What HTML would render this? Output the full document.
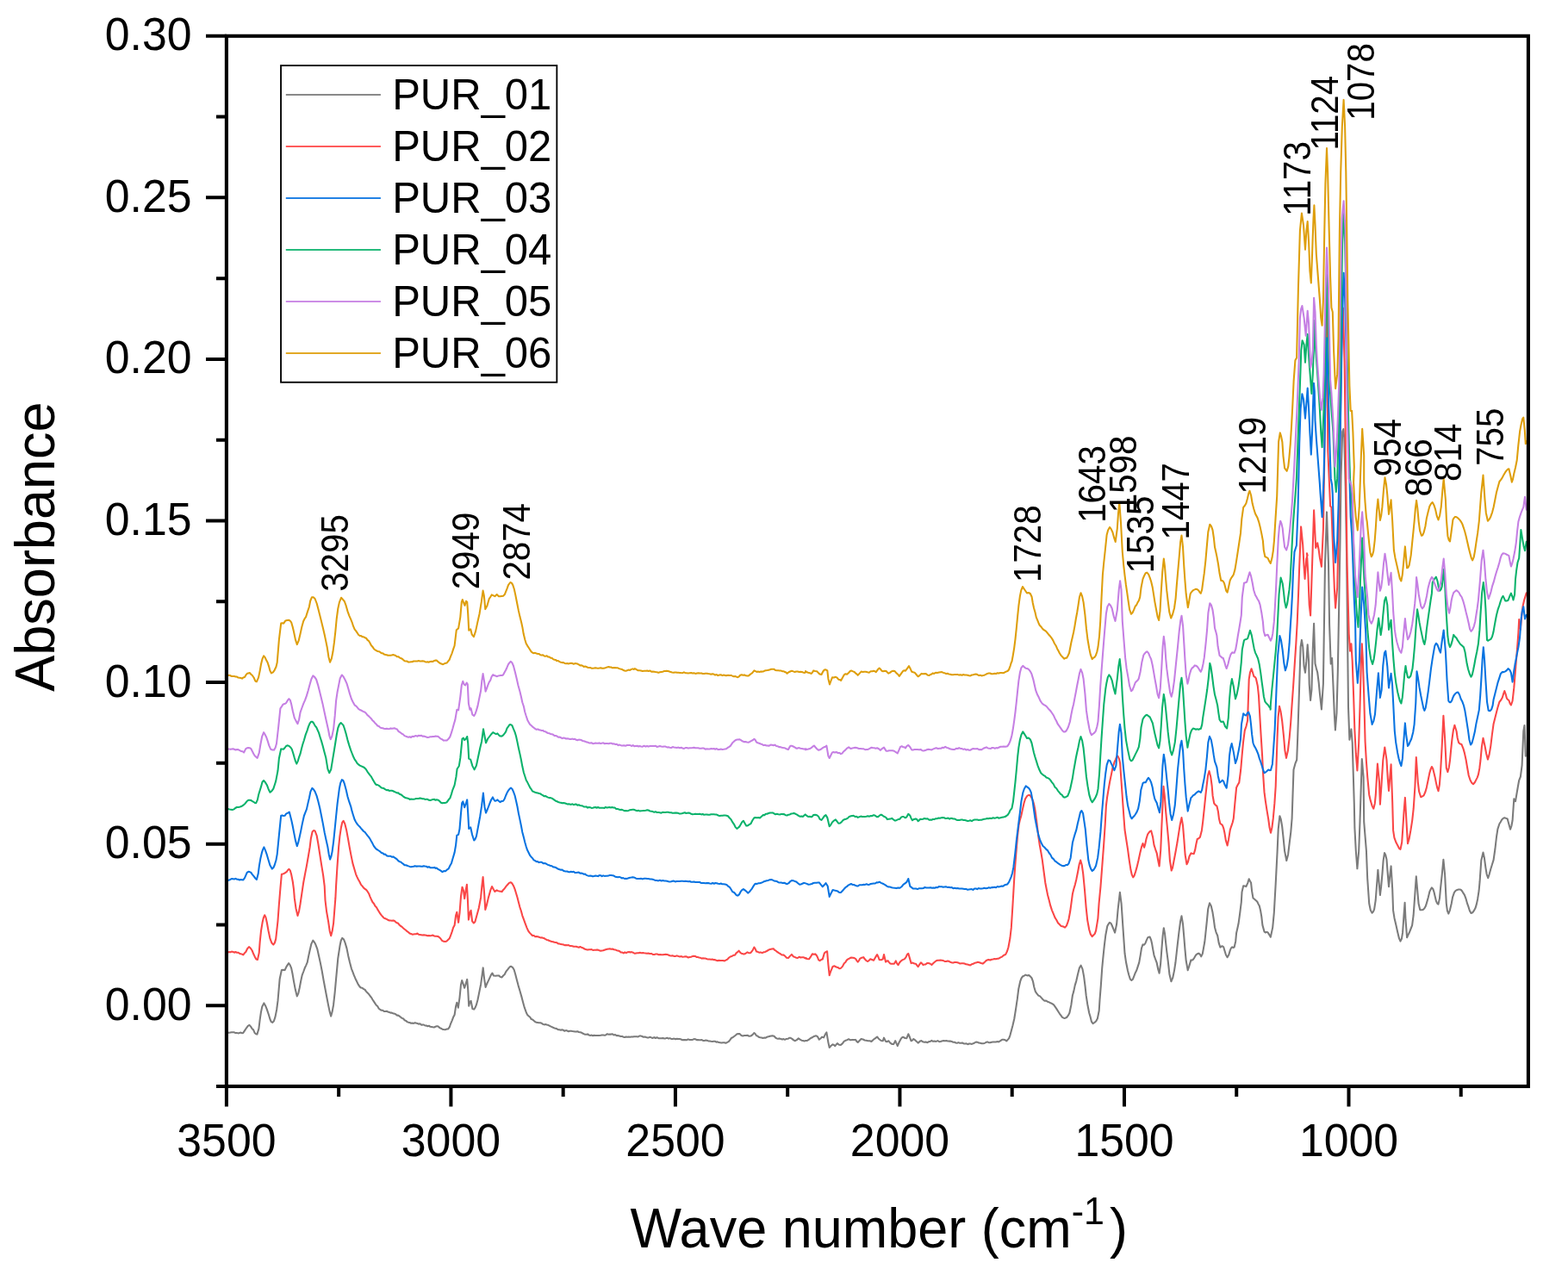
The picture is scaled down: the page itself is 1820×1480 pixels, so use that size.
<!DOCTYPE html><html><head><meta charset="utf-8"><style>html,body{margin:0;padding:0;background:#fff}svg{display:block}text{font-family:"Liberation Sans", sans-serif;fill:#000}</style></head><body>
<svg width="1820" height="1480" viewBox="0 0 1820 1480">
<rect width="1820" height="1480" fill="#fff"/>
<g fill="none" stroke-width="2.05" stroke-linejoin="round" stroke-linecap="round">
<path d="M263.0,1199.1L264.5,1198.6L265.9,1198.7L267.4,1198.5L268.9,1198.3L270.4,1198.2L271.9,1198.3L273.4,1199.1L274.9,1198.9L276.4,1199.4L278.0,1199.0L279.5,1198.6L281.0,1199.2L282.3,1198.9L284.3,1195.9L286.0,1193.3L287.8,1190.9L289.5,1189.9L291.1,1191.6L292.7,1194.2L294.1,1195.4L295.6,1198.9L297.1,1200.2L298.4,1200.6L300.4,1194.1L301.7,1183.3L302.9,1175.1L304.3,1168.5L306.4,1164.4L308.1,1167.4L309.8,1171.6L311.7,1177.3L313.5,1183.2L314.9,1186.2L316.2,1186.9L317.9,1185.3L319.5,1180.4L321.2,1171.7L322.5,1161.7L324.7,1136.2L326.9,1126.0L328.8,1125.8L330.6,1126.1L332.9,1121.3L335.1,1118.1L336.6,1120.1L338.1,1123.6L339.6,1130.8L341.0,1139.1L342.9,1149.1L344.8,1156.4L346.3,1153.1L347.7,1146.7L349.2,1138.8L350.7,1131.9L352.2,1128.0L353.7,1123.8L355.2,1120.6L356.7,1117.2L358.1,1110.1L359.6,1103.3L361.4,1095.6L363.3,1091.6L364.8,1093.6L366.3,1096.3L368.3,1101.6L370.0,1109.3L371.9,1117.9L373.7,1127.0L375.6,1137.9L377.5,1148.0L379.3,1157.5L381.2,1167.4L382.7,1174.4L384.2,1179.6L385.7,1174.1L387.1,1166.2L388.7,1151.6L390.1,1136.1L392.3,1112.3L394.6,1097.3L395.8,1091.8L397.2,1088.9L398.9,1090.2L400.5,1094.1L402.5,1100.9L404.2,1109.4L406.0,1117.1L407.9,1124.3L409.3,1127.9L410.8,1131.9L412.4,1135.7L414.0,1139.0L415.7,1142.6L417.6,1145.4L419.0,1146.6L420.5,1146.8L422.1,1148.1L423.5,1148.7L425.0,1150.9L426.6,1152.5L428.0,1153.9L429.5,1156.0L431.0,1157.8L432.4,1160.2L434.0,1162.6L435.3,1164.6L436.7,1166.8L438.2,1168.1L439.7,1170.7L441.4,1172.0L442.8,1172.8L444.2,1172.7L445.8,1174.0L447.3,1174.1L448.8,1173.8L450.3,1174.5L451.8,1175.0L453.3,1175.6L454.8,1175.6L456.3,1176.4L457.7,1176.6L459.2,1177.2L460.7,1178.6L462.2,1178.6L463.7,1179.6L465.2,1180.8L466.7,1181.9L468.2,1182.5L469.7,1184.3L471.1,1184.9L472.6,1186.1L474.1,1186.7L475.6,1187.0L477.1,1187.8L478.5,1187.6L480.0,1187.9L481.5,1187.2L483.0,1187.6L484.4,1187.9L485.8,1188.7L487.4,1188.3L488.9,1189.6L490.4,1189.6L491.9,1189.5L493.4,1190.5L494.9,1190.5L496.4,1191.2L497.9,1190.7L499.4,1191.8L500.9,1191.9L502.4,1192.3L503.8,1192.5L505.4,1191.8L506.9,1191.3L508.3,1191.3L510.5,1193.1L511.8,1193.7L513.4,1194.7L515.0,1195.1L516.7,1195.2L518.6,1194.6L520.2,1194.4L521.8,1192.2L523.1,1188.3L524.7,1184.6L526.1,1180.8L527.6,1178.0L529.1,1168.1L530.3,1163.7L531.8,1169.8L533.5,1158.1L535.0,1143.0L536.2,1138.1L537.7,1142.4L539.2,1146.8L540.7,1141.8L542.2,1136.9L543.2,1148.6L544.2,1167.8L545.4,1163.1L546.6,1161.8L548.4,1171.0L550.2,1171.6L551.6,1169.6L552.9,1166.4L554.5,1160.5L555.8,1154.1L558.1,1142.7L559.6,1131.9L560.7,1123.4L562.1,1136.2L563.6,1145.9L565.5,1141.2L566.9,1138.4L568.5,1134.8L570.0,1131.6L571.4,1129.5L572.9,1132.5L575.2,1132.8L577.0,1132.6L578.9,1132.4L580.8,1134.0L582.6,1134.4L584.1,1132.5L585.6,1131.2L587.4,1127.7L589.3,1125.4L590.6,1123.6L592.0,1122.1L593.3,1121.7L595.1,1123.1L596.7,1125.8L598.3,1131.3L599.7,1136.8L601.5,1143.6L603.4,1150.0L605.3,1156.6L607.1,1163.4L608.8,1169.7L610.8,1175.2L612.2,1178.1L613.7,1179.4L615.3,1180.8L616.7,1183.1L618.1,1183.4L619.6,1184.8L621.2,1186.1L622.6,1186.8L624.1,1187.0L625.6,1187.2L627.2,1187.2L628.7,1187.7L630.2,1188.9L631.7,1189.4L633.1,1189.1L634.6,1189.5L636.1,1189.8L637.6,1190.6L639.1,1191.4L640.6,1192.1L642.1,1192.8L643.5,1193.4L645.0,1193.7L646.4,1194.3L647.9,1195.2L649.4,1195.3L651.0,1195.8L652.4,1195.3L653.8,1195.7L655.3,1196.8L656.9,1196.1L658.4,1196.5L659.9,1197.3L661.4,1196.7L662.9,1196.8L664.4,1197.1L665.9,1197.2L667.4,1197.4L668.9,1197.6L670.3,1197.2L671.8,1198.0L673.3,1198.2L674.8,1198.6L676.3,1199.5L677.7,1200.2L679.2,1200.7L680.7,1200.8L682.1,1200.4L683.6,1201.6L685.2,1201.9L686.6,1201.6L688.1,1202.3L689.6,1201.7L691.1,1201.9L692.6,1202.0L694.1,1202.1L695.6,1201.9L697.2,1201.8L698.8,1201.5L700.3,1201.6L701.8,1201.8L703.0,1201.5L704.8,1200.2L706.6,1200.7L707.8,1200.6L709.3,1200.6L710.9,1200.3L712.5,1201.5L714.1,1201.1L715.7,1202.1L717.1,1202.1L718.9,1202.6L720.5,1203.1L722.0,1202.9L723.7,1203.7L725.2,1204.0L726.7,1203.5L728.2,1203.8L729.8,1203.6L731.4,1203.7L733.0,1203.4L734.5,1203.6L736.0,1203.2L737.6,1203.2L739.1,1203.3L740.7,1203.5L742.1,1202.5L743.5,1202.4L745.3,1203.0L746.8,1203.7L748.4,1203.6L750.1,1204.1L751.5,1204.4L753.0,1204.4L754.5,1203.8L756.1,1204.4L757.7,1204.9L759.3,1204.1L760.9,1205.0L762.6,1204.2L764.3,1205.2L766.1,1205.3L767.8,1205.2L769.5,1205.0L771.1,1205.4L772.5,1205.4L774.3,1204.7L776.0,1205.6L777.5,1205.1L779.1,1205.9L780.8,1206.0L782.4,1205.6L784.1,1206.2L785.7,1205.7L787.3,1206.0L788.9,1205.9L790.5,1206.5L792.3,1207.3L793.8,1207.1L795.3,1207.1L797.0,1207.2L798.7,1206.4L800.5,1207.0L802.2,1206.9L803.9,1206.9L805.5,1206.1L807.1,1206.2L808.6,1207.1L810.1,1207.1L811.6,1207.3L813.1,1207.3L814.6,1207.0L816.0,1207.9L817.6,1207.9L819.1,1207.6L820.7,1207.8L822.2,1208.4L823.7,1208.5L825.3,1208.8L826.8,1208.9L828.3,1208.8L829.8,1208.7L831.4,1209.7L832.9,1209.3L834.4,1210.1L835.8,1210.2L837.5,1210.4L839.2,1210.2L840.8,1210.2L842.3,1210.7L843.7,1210.2L845.6,1209.2L847.2,1207.4L849.0,1204.8L850.5,1204.3L852.1,1203.0L853.8,1201.7L855.4,1200.2L856.9,1200.1L858.7,1200.1L860.5,1202.0L862.2,1202.4L864.0,1202.0L865.8,1202.0L867.5,1201.8L869.5,1202.7L871.4,1202.6L873.5,1201.1L875.4,1199.0L876.6,1200.0L878.0,1202.2L879.2,1202.4L880.6,1203.8L882.3,1204.3L883.9,1204.4L885.6,1204.9L887.3,1204.6L888.8,1204.7L890.5,1203.6L892.1,1203.3L893.7,1202.7L895.2,1202.4L896.5,1202.3L898.5,1202.8L900.4,1204.8L901.7,1205.4L903.1,1205.8L904.7,1205.4L906.4,1206.1L908.0,1206.6L909.6,1206.1L911.0,1206.8L912.8,1205.9L914.5,1205.8L916.1,1204.8L917.6,1204.8L919.4,1205.9L921.2,1207.4L922.9,1208.2L924.8,1207.1L926.8,1205.4L928.6,1206.7L930.4,1207.7L932.1,1208.0L933.6,1208.4L935.0,1208.1L937.0,1207.9L939.0,1206.6L941.0,1205.0L942.9,1204.3L944.2,1203.2L945.5,1202.8L947.3,1202.3L948.8,1203.1L950.8,1206.7L952.4,1205.5L954.1,1203.6L956.1,1204.4L957.9,1200.6L959.4,1198.4L961.4,1210.1L962.7,1216.0L964.5,1214.0L966.6,1212.3L968.0,1213.0L969.3,1214.2L970.6,1212.5L971.9,1211.1L973.9,1212.8L975.9,1212.9L977.8,1211.4L979.8,1208.7L981.5,1207.8L983.3,1207.1L985.1,1206.2L987.1,1207.3L989.1,1206.9L991.1,1207.1L993.0,1206.9L994.4,1208.9L995.7,1210.0L997.6,1208.0L999.6,1205.9L1001.6,1206.4L1003.6,1207.5L1005.5,1207.8L1007.5,1208.2L1009.6,1208.2L1011.5,1209.0L1012.8,1207.7L1014.1,1206.5L1016.1,1205.1L1018.1,1203.5L1019.4,1205.1L1020.7,1206.5L1022.8,1208.0L1024.7,1208.3L1026.0,1204.6L1028.0,1208.8L1029.5,1209.3L1031.3,1208.2L1033.3,1210.6L1035.2,1211.9L1037.2,1212.1L1039.2,1208.1L1040.4,1210.9L1041.8,1214.1L1043.7,1209.7L1045.8,1205.7L1047.0,1204.3L1048.4,1203.8L1050.5,1205.0L1052.4,1205.2L1054.3,1200.3L1055.9,1203.8L1057.6,1208.3L1058.9,1207.6L1060.3,1206.0L1062.0,1207.2L1063.9,1208.9L1065.6,1210.6L1066.8,1209.6L1068.2,1208.4L1069.5,1208.1L1071.2,1209.3L1072.9,1209.7L1074.6,1209.4L1076.1,1210.2L1078.0,1209.3L1080.1,1208.7L1081.4,1207.9L1082.9,1208.8L1084.7,1208.5L1086.5,1208.9L1088.4,1208.1L1090.2,1209.2L1091.8,1209.0L1093.2,1208.4L1095.2,1208.0L1096.8,1208.2L1098.5,1208.1L1100.0,1208.4L1101.5,1208.6L1103.1,1208.6L1104.7,1208.9L1106.4,1209.8L1107.9,1209.7L1109.3,1210.5L1110.9,1210.7L1112.4,1210.1L1114.0,1210.7L1115.5,1210.8L1117.0,1210.5L1118.6,1211.4L1120.2,1211.4L1121.7,1211.3L1123.3,1212.2L1124.8,1211.5L1126.2,1211.6L1128.0,1211.9L1129.6,1211.3L1131.2,1210.5L1132.8,1209.5L1134.5,1209.7L1136.1,1210.6L1137.8,1210.8L1139.4,1211.3L1141.1,1211.2L1142.7,1211.0L1144.3,1210.0L1146.0,1209.4L1147.6,1210.2L1149.3,1210.3L1150.9,1209.8L1152.6,1209.5L1154.3,1209.4L1156.0,1209.4L1157.7,1209.1L1159.2,1209.4L1161.2,1208.2L1163.1,1206.8L1164.9,1206.8L1166.8,1207.3L1168.4,1208.4L1169.9,1206.6L1171.1,1205.4L1172.5,1201.6L1173.7,1197.0L1175.5,1190.3L1177.3,1182.5L1179.1,1171.1L1180.8,1159.7L1182.3,1147.7L1184.3,1138.8L1185.6,1135.3L1187.0,1133.5L1188.7,1132.6L1190.4,1131.6L1192.3,1132.4L1194.0,1131.9L1195.9,1133.4L1197.5,1135.2L1199.1,1139.7L1200.3,1145.8L1201.9,1151.1L1203.5,1153.3L1205.3,1155.6L1207.1,1156.4L1208.9,1158.4L1210.6,1160.3L1212.4,1161.8L1214.1,1161.6L1215.9,1162.7L1217.7,1163.4L1219.5,1164.3L1221.3,1165.1L1223.1,1166.4L1224.7,1168.6L1226.6,1171.4L1228.2,1174.0L1230.0,1176.8L1231.4,1178.6L1233.0,1180.9L1234.6,1181.7L1236.1,1181.9L1238.1,1181.0L1239.9,1178.7L1241.4,1175.7L1243.4,1166.2L1244.9,1155.5L1246.3,1150.6L1247.7,1143.9L1249.3,1138.6L1251.0,1131.1L1252.9,1123.6L1254.6,1120.7L1256.5,1124.9L1258.1,1133.4L1259.5,1144.3L1260.7,1155.7L1262.3,1166.0L1264.2,1175.8L1265.5,1180.1L1266.9,1185.8L1268.6,1188.1L1270.4,1187.0L1272.3,1185.2L1273.9,1182.3L1275.7,1173.2L1276.5,1160.7L1277.9,1143.1L1279.2,1124.0L1280.4,1111.3L1281.8,1097.8L1283.3,1085.5L1285.3,1075.0L1286.5,1072.8L1287.9,1070.8L1289.3,1071.6L1290.6,1074.0L1292.5,1078.7L1294.1,1082.6L1296.1,1072.8L1297.6,1055.9L1299.9,1035.8L1301.6,1048.8L1303.7,1080.4L1305.5,1106.5L1307.0,1116.8L1309.0,1126.7L1310.3,1131.8L1311.8,1136.5L1313.4,1138.0L1314.8,1136.8L1316.3,1133.1L1317.8,1129.2L1319.3,1126.3L1320.8,1121.6L1322.2,1117.4L1323.7,1108.9L1325.0,1100.7L1326.5,1096.4L1328.1,1096.7L1329.4,1095.0L1330.7,1091.6L1332.2,1088.4L1333.4,1087.7L1334.6,1087.5L1336.0,1090.8L1337.0,1094.9L1338.2,1101.9L1339.5,1108.8L1341.0,1113.2L1342.7,1117.7L1344.3,1125.5L1345.6,1129.7L1347.1,1118.8L1348.4,1101.4L1349.6,1086.3L1350.8,1077.2L1352.0,1083.5L1353.2,1094.9L1354.4,1105.4L1355.7,1115.4L1357.4,1130.7L1359.4,1139.3L1361.2,1135.2L1363.0,1126.6L1364.4,1117.5L1365.7,1106.0L1367.0,1094.3L1368.5,1081.7L1370.1,1069.5L1371.5,1063.3L1373.0,1072.5L1374.3,1087.7L1375.5,1102.3L1376.7,1115.3L1378.7,1126.2L1380.3,1121.4L1382.4,1114.4L1383.6,1114.6L1384.8,1113.8L1386.4,1111.6L1388.1,1108.6L1389.7,1107.3L1391.3,1106.6L1392.9,1107.9L1394.2,1110.4L1395.8,1107.1L1397.0,1100.5L1398.3,1093.3L1399.4,1083.0L1400.8,1069.7L1402.2,1055.2L1404.0,1048.3L1405.8,1051.8L1407.5,1059.1L1408.8,1067.4L1410.0,1076.4L1411.5,1082.1L1413.2,1086.0L1414.7,1094.6L1416.4,1099.6L1417.7,1098.6L1418.9,1098.3L1420.2,1099.3L1421.3,1103.0L1422.9,1108.3L1424.6,1111.3L1426.2,1108.6L1427.8,1103.1L1428.9,1100.6L1430.2,1099.3L1431.5,1100.0L1432.7,1099.3L1434.2,1092.7L1435.1,1082.9L1436.3,1077.8L1437.5,1072.3L1439.2,1060.1L1440.8,1047.1L1441.5,1035.6L1443.2,1028.2L1444.8,1028.6L1446.4,1029.1L1448.2,1025.1L1449.7,1020.3L1450.9,1022.6L1452.1,1024.8L1453.1,1034.3L1454.5,1042.5L1456.1,1043.8L1457.8,1045.3L1459.2,1046.5L1460.6,1049.4L1461.8,1051.5L1463.2,1057.6L1464.3,1064.2L1465.4,1073.9L1467.5,1081.4L1468.8,1082.5L1470.2,1081.8L1471.6,1082.4L1473.3,1085.1L1474.8,1087.7L1477.2,1076.6L1478.8,1059.6L1480.7,1025.8L1482.6,988.4L1483.7,962.7L1485.4,947.2L1486.8,951.2L1488.2,959.3L1489.7,973.7L1491.1,987.9L1493.3,999.0L1495.1,991.9L1496.7,978.6L1498.3,965.8L1499.6,950.0L1501.5,893.6L1503.4,886.4L1505.2,882.0L1506.2,856.0L1508.1,798.5L1509.6,751.0L1510.9,742.9L1512.3,751.2L1513.6,773.6L1515.0,780.8L1516.4,767.4L1517.7,748.3L1519.1,767.3L1519.7,794.1L1521.1,813.0L1522.4,801.0L1523.8,753.1L1525.1,723.8L1526.5,770.3L1527.8,775.6L1529.2,780.5L1530.7,792.4L1531.9,804.9L1533.9,823.4L1535.9,793.6L1538.0,654.9L1540.0,594.4L1542.0,655.1L1543.1,725.5L1544.7,770.6L1546.1,764.1L1547.4,794.3L1548.8,828.2L1549.9,847.5L1551.5,827.5L1552.8,780.0L1554.1,708.1L1555.5,627.5L1556.5,553.0L1558.2,501.1L1559.3,498.0L1560.3,508.7L1561.7,564.7L1563.0,641.1L1565.0,820.8L1566.4,858.7L1568.4,846.4L1569.7,862.1L1571.8,933.0L1572.4,961.0L1573.8,987.4L1575.4,1008.3L1577.2,988.0L1578.5,953.5L1580.8,881.0L1582.6,902.3L1583.2,953.8L1584.5,970.1L1585.9,987.3L1587.2,1019.8L1589.2,1048.8L1590.8,1056.6L1592.6,1059.7L1593.9,1058.4L1595.1,1055.7L1596.7,1045.0L1597.7,1032.0L1599.4,1009.7L1600.6,1024.3L1601.9,1039.0L1603.1,1029.4L1604.4,1015.1L1605.6,999.1L1607.0,990.1L1608.2,992.2L1609.5,997.8L1610.9,1016.2L1612.0,1029.2L1613.3,1016.4L1614.6,1005.4L1616.2,1031.9L1617.1,1056.9L1618.5,1065.7L1620.5,1074.3L1622.1,1081.5L1623.9,1089.0L1625.5,1092.6L1626.9,1089.8L1628.1,1082.4L1629.5,1062.2L1630.6,1047.8L1631.5,1067.7L1633.1,1088.2L1634.3,1085.6L1635.7,1082.8L1637.4,1078.5L1639.1,1074.2L1640.6,1062.7L1641.6,1048.9L1643.8,1017.3L1645.8,1040.3L1646.6,1049.1L1648.3,1056.2L1650.0,1056.2L1651.7,1056.0L1653.3,1054.6L1654.7,1052.1L1655.9,1048.4L1657.7,1042.0L1659.3,1035.2L1660.6,1032.3L1661.9,1030.4L1663.2,1031.7L1664.4,1035.1L1665.6,1040.3L1666.9,1045.8L1668.2,1048.6L1669.5,1049.6L1671.0,1042.6L1672.0,1031.7L1673.7,1015.6L1675.4,997.8L1677.1,1015.0L1678.8,1048.8L1679.9,1057.2L1681.3,1060.6L1682.9,1056.6L1684.7,1049.0L1686.1,1041.3L1688.0,1035.8L1689.6,1033.8L1691.4,1032.9L1692.8,1032.6L1694.3,1032.5L1695.6,1032.7L1697.2,1034.5L1698.6,1036.9L1699.9,1038.8L1701.6,1043.4L1703.2,1049.2L1704.5,1052.7L1705.9,1057.2L1707.5,1060.0L1709.2,1059.3L1710.8,1057.2L1712.5,1054.1L1713.9,1049.4L1715.1,1043.7L1716.6,1034.0L1717.6,1023.2L1719.3,998.7L1721.5,989.5L1722.9,995.8L1724.4,1007.1L1725.7,1015.0L1727.2,1019.2L1728.7,1014.7L1730.3,1008.7L1732.0,1003.2L1733.6,998.1L1735.4,985.5L1737.0,971.5L1738.4,962.4L1740.4,956.2L1741.7,954.2L1743.2,951.5L1744.8,949.9L1746.3,949.3L1748.1,949.9L1749.7,950.5L1751.6,957.4L1753.1,962.6L1754.4,958.7L1755.6,952.3L1757.3,927.2L1759.0,930.2L1760.7,920.0L1761.9,913.0L1763.2,905.8L1764.9,901.5L1766.6,888.3L1768.3,848.8L1769.5,842.0L1770.8,877.6" stroke="#7b7b7b"/>
<path d="M263.0,1105.5L264.5,1105.4L266.0,1105.1L267.5,1105.2L268.9,1104.6L270.5,1104.9L271.9,1105.7L273.4,1105.0L274.9,1105.7L276.4,1105.7L277.9,1106.7L279.4,1107.3L280.9,1107.6L282.3,1108.4L283.9,1106.3L285.3,1105.0L287.1,1101.2L289.0,1099.1L290.9,1100.8L292.7,1103.5L294.2,1107.3L295.7,1110.4L297.4,1113.5L299.0,1113.9L300.7,1106.1L301.7,1093.2L303.0,1080.7L304.6,1070.8L305.8,1065.5L307.2,1062.2L308.5,1064.9L309.8,1070.7L311.5,1080.3L313.5,1089.7L315.4,1094.5L317.3,1096.6L318.9,1094.4L320.2,1089.9L322.5,1068.8L323.9,1049.5L325.4,1031.5L326.9,1014.7L328.3,1014.5L329.9,1013.9L331.4,1012.8L332.9,1011.8L334.3,1009.7L335.5,1008.8L336.9,1010.7L338.1,1014.9L339.8,1023.5L341.0,1032.4L341.8,1042.4L343.5,1054.4L345.5,1062.9L347.0,1058.0L348.5,1049.5L350.3,1037.3L352.2,1024.5L354.0,1014.9L355.9,1005.1L357.8,994.2L359.6,983.7L360.8,973.8L362.6,965.5L364.1,964.1L365.6,964.5L367.7,970.2L369.3,979.1L371.2,991.3L373.0,1003.1L375.1,1015.8L376.7,1028.5L377.5,1045.0L379.1,1058.3L381.2,1070.3L382.7,1080.7L384.2,1086.3L385.7,1080.6L387.1,1071.6L389.4,1042.2L390.1,1028.1L391.4,1006.9L393.1,983.4L394.4,970.7L396.0,960.2L397.3,954.6L398.6,952.8L400.3,956.2L402.0,962.9L403.9,973.1L405.7,983.4L407.5,992.9L409.4,1002.1L411.1,1008.0L413.1,1014.8L414.4,1017.9L415.8,1020.7L417.4,1023.5L419.0,1026.9L420.6,1028.6L422.1,1030.7L423.6,1031.8L425.1,1032.9L426.5,1034.7L428.1,1037.2L429.6,1041.1L431.0,1044.2L432.5,1047.2L433.9,1048.7L435.5,1051.8L437.0,1053.2L438.4,1055.9L439.9,1058.3L441.2,1060.4L442.9,1062.6L444.2,1064.0L445.6,1065.6L447.2,1066.2L448.7,1066.9L450.3,1067.8L451.8,1068.5L453.3,1068.5L454.8,1068.8L456.3,1068.4L457.7,1068.7L459.3,1070.4L460.8,1071.3L462.2,1071.8L463.7,1073.8L465.1,1075.0L466.6,1075.9L468.2,1077.5L469.7,1078.7L471.1,1079.8L472.6,1081.2L474.1,1082.2L475.5,1083.4L477.1,1083.9L478.5,1084.7L480.0,1084.5L481.5,1084.3L483.0,1084.2L484.5,1083.5L486.0,1084.8L487.5,1085.0L488.9,1085.2L490.4,1085.5L491.9,1085.2L493.4,1085.5L494.9,1085.8L496.4,1086.3L497.9,1085.9L499.4,1086.3L500.8,1086.1L502.4,1085.6L504.0,1086.5L505.5,1086.7L506.8,1086.8L508.3,1087.0L509.8,1087.9L511.4,1089.5L513.1,1091.8L515.0,1092.8L516.7,1092.9L518.6,1092.4L520.2,1090.7L521.8,1089.2L523.1,1085.8L524.7,1081.4L526.1,1076.8L527.6,1074.1L529.1,1062.6L530.3,1058.7L532.1,1070.8L533.5,1059.8L535.0,1040.5L536.5,1029.7L538.0,1033.8L539.2,1043.1L540.7,1033.1L541.9,1026.7L542.9,1044.2L543.9,1067.6L545.4,1059.5L546.6,1056.8L548.1,1069.3L549.9,1071.5L551.4,1070.0L553.6,1061.9L555.8,1054.0L558.1,1041.7L559.3,1029.2L560.6,1018.0L562.1,1036.9L563.3,1055.9L564.8,1051.0L567.0,1041.6L569.2,1033.7L571.0,1029.0L572.9,1032.5L574.4,1034.9L576.7,1033.3L578.1,1034.1L579.6,1034.6L581.1,1034.7L582.6,1035.1L584.1,1032.9L585.6,1031.5L587.4,1028.9L589.3,1026.8L591.0,1024.9L592.7,1024.2L594.4,1025.4L596.0,1028.2L597.6,1032.1L599.0,1036.7L600.5,1041.8L601.9,1047.2L603.4,1053.1L604.9,1057.5L606.3,1062.8L607.9,1067.2L609.6,1071.9L611.6,1077.1L613.2,1080.6L614.9,1082.9L616.8,1084.9L618.2,1086.1L619.7,1085.9L621.2,1087.2L622.7,1087.0L624.2,1087.3L625.7,1087.8L627.2,1088.4L628.7,1088.3L630.2,1088.7L631.7,1089.2L633.1,1090.1L634.6,1090.9L636.1,1091.3L637.6,1092.0L639.1,1092.5L640.5,1093.1L642.0,1093.2L643.5,1093.8L645.0,1094.0L646.5,1094.3L648.0,1095.4L649.5,1095.5L651.0,1096.1L652.5,1096.3L654.0,1096.5L655.4,1097.2L656.9,1097.1L658.4,1097.3L659.9,1097.1L661.4,1097.9L662.8,1098.0L664.4,1098.3L665.9,1098.8L667.4,1098.8L668.9,1098.7L670.3,1099.3L671.9,1099.7L673.4,1099.0L674.8,1099.7L676.3,1100.2L677.7,1101.0L679.1,1101.8L680.6,1102.2L682.2,1102.6L683.6,1102.3L685.1,1102.2L686.6,1102.1L688.2,1102.9L689.7,1102.7L691.1,1102.7L692.7,1102.6L694.2,1102.6L695.6,1103.3L697.1,1103.7L698.6,1103.4L700.1,1103.3L701.6,1102.8L703.0,1102.3L704.7,1101.8L706.6,1101.4L707.8,1101.3L709.3,1101.8L710.9,1101.5L712.6,1102.3L714.2,1102.4L715.8,1103.2L717.1,1103.5L719.0,1103.9L720.6,1105.4L722.4,1105.6L723.8,1106.4L725.3,1105.4L726.9,1106.2L728.6,1105.2L730.2,1104.9L731.7,1105.5L733.0,1105.1L735.0,1105.8L736.9,1106.8L738.2,1106.5L739.6,1106.2L741.2,1106.2L742.8,1105.8L744.5,1106.2L746.2,1106.1L747.7,1106.3L749.3,1106.4L750.9,1106.7L752.6,1106.5L754.3,1107.1L756.0,1106.9L757.7,1107.9L759.3,1108.1L761.0,1107.5L762.7,1107.4L764.5,1108.2L766.2,1108.1L767.9,1108.2L769.6,1108.3L771.1,1107.9L772.5,1107.8L774.3,1108.1L775.8,1108.5L777.4,1109.2L779.1,1109.4L780.6,1109.3L782.2,1109.9L783.9,1110.0L785.7,1109.4L787.5,1110.0L789.2,1110.4L790.8,1110.1L792.3,1110.8L794.1,1110.6L795.8,1110.3L797.3,1110.6L798.9,1111.5L800.5,1111.1L802.1,1110.7L803.7,1110.1L805.5,1109.7L806.9,1109.9L808.4,1110.9L809.9,1111.1L811.4,1111.5L813.0,1111.8L814.6,1112.6L816.0,1112.3L817.6,1112.5L819.1,1112.6L820.7,1113.2L822.2,1113.5L823.7,1113.5L825.3,1113.7L826.8,1113.5L828.3,1114.1L829.9,1114.1L831.4,1114.8L833.0,1115.3L834.4,1114.7L835.8,1115.1L837.6,1114.9L839.3,1115.0L840.9,1115.4L842.4,1114.6L844.3,1113.6L846.0,1111.8L847.7,1110.5L849.5,1110.0L851.3,1108.8L853.0,1108.8L854.7,1106.1L856.2,1105.1L857.6,1103.6L859.6,1106.1L861.4,1107.1L863.5,1107.6L865.5,1106.8L867.5,1105.3L869.5,1106.3L871.4,1105.9L873.6,1103.1L875.4,1099.5L876.6,1101.3L878.0,1104.5L879.4,1104.8L881.1,1105.7L882.9,1105.4L884.6,1106.1L886.5,1105.3L888.2,1104.9L889.9,1104.0L891.9,1102.8L893.9,1101.9L895.9,1101.5L897.8,1101.2L899.1,1102.9L900.4,1103.4L902.1,1104.9L903.9,1106.1L905.7,1107.2L907.5,1108.5L909.3,1108.4L911.0,1109.6L913.0,1111.7L915.0,1112.0L916.9,1109.9L918.9,1107.9L920.7,1110.2L922.9,1111.1L924.3,1111.7L925.9,1112.0L927.6,1110.7L929.3,1111.5L930.8,1111.3L933.0,1111.3L935.1,1112.5L936.1,1112.5L935.0,1112.0L936.6,1113.1L939.0,1113.3L940.9,1110.7L942.9,1107.2L944.4,1107.8L946.1,1107.4L947.5,1108.6L948.9,1111.1L950.2,1114.3L951.6,1115.1L953.4,1113.8L954.8,1113.4L956.8,1106.6L958.4,1105.1L960.1,1104.3L961.4,1119.6L962.7,1132.1L964.3,1127.3L966.6,1121.9L968.5,1121.3L970.6,1122.5L972.4,1122.9L974.2,1124.3L975.9,1123.9L977.9,1121.9L979.8,1118.2L981.3,1117.0L982.9,1114.4L984.7,1113.2L986.4,1112.3L988.1,1111.5L989.9,1111.7L991.6,1112.1L993.0,1112.8L994.5,1115.1L995.7,1116.6L996.9,1115.2L998.3,1112.6L1000.2,1111.8L1002.3,1111.1L1003.8,1113.3L1005.4,1115.0L1006.9,1116.0L1008.5,1115.1L1010.2,1113.3L1012.2,1114.0L1014.1,1114.8L1016.3,1110.9L1018.1,1108.0L1019.3,1110.4L1020.7,1114.1L1022.8,1114.3L1024.7,1113.4L1026.0,1108.0L1028.0,1116.6L1029.2,1115.6L1030.6,1115.2L1031.8,1116.8L1033.2,1118.4L1034.7,1118.7L1036.4,1118.8L1037.9,1118.7L1039.8,1115.4L1041.1,1118.3L1042.5,1120.2L1044.0,1117.5L1045.8,1115.5L1047.7,1114.1L1049.7,1113.4L1051.4,1111.4L1053.0,1107.8L1054.3,1106.8L1055.8,1111.9L1057.6,1118.1L1059.3,1117.6L1061.3,1118.5L1062.9,1118.7L1064.4,1120.7L1065.6,1122.2L1067.2,1119.6L1068.9,1117.3L1070.0,1118.2L1071.5,1120.1L1072.8,1119.6L1074.3,1119.5L1076.0,1118.1L1077.4,1117.9L1079.4,1118.5L1081.4,1120.0L1083.1,1118.2L1084.8,1116.7L1086.7,1115.2L1088.2,1114.8L1089.9,1114.8L1091.6,1114.6L1093.2,1114.8L1094.9,1115.1L1096.5,1115.9L1098.2,1116.0L1099.8,1115.5L1101.5,1115.8L1103.1,1116.8L1104.7,1117.4L1106.4,1117.6L1108.0,1117.0L1109.6,1117.1L1111.3,1117.2L1112.9,1117.8L1114.3,1118.5L1116.2,1118.2L1117.9,1118.2L1119.6,1118.5L1121.2,1119.3L1122.9,1119.6L1124.6,1120.0L1126.2,1120.4L1127.9,1119.3L1129.6,1118.8L1131.3,1117.8L1132.8,1117.6L1134.9,1116.8L1136.8,1117.2L1138.8,1118.0L1140.7,1118.6L1142.6,1117.1L1144.7,1115.0L1146.1,1114.3L1147.6,1113.9L1149.3,1114.5L1151.0,1113.7L1152.6,1113.5L1154.3,1113.0L1156.0,1113.3L1157.7,1112.7L1159.2,1112.7L1161.3,1111.4L1163.1,1110.6L1165.2,1108.7L1167.1,1108.1L1169.0,1104.2L1170.4,1099.7L1172.4,1089.0L1173.8,1076.9L1175.5,1050.0L1177.3,1019.0L1178.6,1000.6L1179.9,984.1L1181.1,970.2L1182.6,957.5L1183.9,951.6L1185.3,947.0L1186.9,939.6L1188.6,932.0L1190.1,927.3L1192.0,924.2L1193.7,923.0L1195.4,923.0L1197.3,925.8L1198.8,929.1L1200.3,934.4L1201.5,940.6L1203.4,954.9L1205.4,971.6L1206.8,981.0L1208.4,989.8L1209.8,998.1L1211.5,1011.1L1213.3,1024.7L1214.6,1031.5L1216.1,1039.0L1217.7,1045.0L1219.3,1051.4L1221.0,1056.6L1223.0,1061.3L1224.5,1065.1L1226.2,1067.8L1228.0,1071.3L1230.0,1073.3L1231.5,1074.9L1233.1,1075.2L1234.7,1075.8L1236.1,1076.6L1237.9,1074.6L1239.3,1070.9L1240.5,1067.0L1242.2,1057.8L1243.5,1048.3L1244.9,1037.8L1246.3,1032.0L1247.8,1027.1L1249.3,1020.9L1251.0,1012.5L1252.7,1003.3L1254.2,998.5L1255.8,1004.3L1257.2,1014.1L1259.0,1033.0L1260.7,1053.8L1262.2,1068.1L1264.2,1079.0L1265.8,1084.4L1267.7,1087.1L1269.2,1085.5L1270.8,1083.9L1272.1,1080.1L1274.4,1066.1L1275.6,1048.5L1277.5,1028.9L1279.2,1006.6L1281.1,981.4L1282.7,957.3L1283.9,935.3L1285.1,925.4L1286.6,916.3L1288.2,907.3L1290.0,898.6L1291.5,891.0L1293.4,885.0L1294.7,882.1L1296.1,878.7L1297.4,877.6L1299.0,880.9L1300.1,885.7L1302.2,916.5L1304.2,945.5L1305.5,963.0L1307.1,973.6L1309.0,985.7L1310.7,998.3L1312.5,1009.8L1313.8,1015.4L1315.2,1018.4L1316.5,1016.6L1318.0,1012.1L1319.5,1006.9L1321.4,999.0L1323.2,990.6L1325.0,983.2L1326.5,979.0L1328.1,983.8L1329.2,980.1L1330.5,973.7L1332.2,968.3L1333.5,966.5L1334.9,964.9L1336.2,964.4L1338.1,971.8L1339.5,980.9L1341.1,985.8L1342.7,990.3L1344.3,999.4L1345.6,1005.5L1347.2,987.1L1348.4,958.5L1350.5,912.8L1351.8,924.0L1353.2,942.4L1354.8,959.5L1356.5,978.1L1357.9,998.5L1359.7,1010.5L1361.0,1007.4L1362.4,1000.0L1363.8,992.7L1365.2,985.1L1366.5,977.8L1367.8,969.4L1369.8,956.7L1371.5,949.1L1373.0,958.1L1374.3,974.2L1375.6,992.0L1377.5,1003.3L1378.9,1000.5L1380.5,993.9L1382.4,990.4L1384.0,990.8L1385.7,991.1L1387.2,986.4L1388.3,980.2L1389.7,974.0L1391.3,973.3L1392.9,971.7L1394.9,963.9L1396.2,953.9L1397.8,938.7L1399.4,922.8L1400.7,911.4L1402.1,899.7L1403.5,895.0L1405.2,901.4L1406.7,912.5L1407.6,923.7L1409.2,932.5L1410.7,934.4L1412.4,935.6L1413.9,941.9L1415.0,950.6L1416.4,956.0L1417.7,956.8L1418.9,957.9L1420.2,961.3L1421.3,966.2L1422.9,975.8L1424.6,981.5L1426.1,974.2L1427.8,963.4L1429.1,959.3L1430.6,955.0L1431.8,950.1L1433.4,932.1L1435.1,914.3L1436.7,911.0L1438.3,908.4L1440.2,893.5L1441.6,877.0L1443.0,861.9L1444.8,847.9L1446.5,843.1L1448.1,836.3L1449.7,788.4L1451.0,780.5L1452.6,776.2L1453.9,780.2L1455.4,785.3L1456.6,785.7L1457.8,787.3L1459.8,796.3L1461.0,807.6L1462.6,836.4L1463.8,856.5L1465.1,877.2L1466.1,898.2L1467.5,919.4L1468.9,930.1L1470.6,941.1L1472.2,950.7L1473.6,960.8L1475.0,966.7L1476.5,960.2L1477.8,949.9L1479.4,932.4L1480.7,912.8L1482.6,855.3L1483.6,832.7L1485.0,819.7L1486.6,826.3L1488.2,837.0L1490.1,855.3L1491.4,871.1L1493.0,879.9L1494.9,871.3L1496.7,856.0L1498.2,838.7L1499.6,817.6L1501.1,796.8L1502.7,771.7L1504.4,745.9L1505.7,722.8L1507.1,688.6L1508.2,657.6L1510.1,611.4L1512.2,632.5L1513.5,656.9L1514.6,671.9L1516.3,648.9L1517.6,644.6L1517.0,642.3L1518.4,667.8L1519.7,701.9L1521.1,714.4L1523.1,654.7L1525.1,592.3L1527.2,636.0L1529.2,630.3L1530.6,637.7L1531.9,647.4L1533.9,657.8L1535.9,614.2L1537.4,526.2L1538.7,416.0L1540.0,361.9L1540.6,418.0L1541.3,523.3L1544.1,587.6L1545.4,588.8L1546.8,627.6L1548.8,682.0L1550.1,705.7L1552.2,681.9L1553.5,628.0L1555.1,532.9L1557.0,415.2L1558.9,357.5L1560.6,419.6L1562.2,547.8L1563.6,655.0L1565.7,735.9L1567.0,755.8L1568.4,747.2L1569.7,767.5L1571.1,807.2L1572.4,847.7L1573.8,874.7L1575.4,894.4L1577.2,862.2L1578.5,821.1L1579.9,767.6L1580.8,747.3L1581.9,767.4L1583.2,807.2L1584.6,861.1L1585.9,883.7L1587.3,902.5L1589.2,922.4L1590.8,929.4L1592.7,935.6L1594.3,938.7L1595.8,932.7L1596.8,922.7L1598.9,886.5L1601.0,907.8L1601.9,933.8L1603.4,912.4L1605.3,882.4L1607.3,867.5L1609.5,882.2L1610.8,903.9L1612.0,917.9L1613.3,902.5L1614.6,887.3L1616.2,931.0L1617.1,963.9L1618.4,972.3L1620.5,978.1L1622.1,981.0L1624.0,984.8L1625.5,985.8L1627.2,977.8L1628.1,964.4L1629.6,941.5L1630.9,925.9L1633.1,964.6L1634.0,979.2L1635.6,973.8L1637.4,963.9L1639.2,952.3L1640.7,938.7L1642.4,913.4L1643.8,879.1L1645.8,907.8L1647.1,918.6L1649.2,925.3L1650.9,924.4L1652.6,923.3L1654.5,919.0L1655.9,913.9L1657.7,905.2L1659.3,897.4L1660.6,892.9L1661.9,890.0L1663.2,892.3L1664.4,897.0L1665.7,902.4L1666.9,908.6L1668.2,914.4L1669.5,918.3L1670.9,910.6L1672.0,896.7L1673.7,866.1L1675.4,830.8L1677.1,857.0L1678.8,891.5L1680.4,896.1L1681.8,890.9L1683.0,882.5L1684.2,869.9L1685.5,857.6L1686.9,847.5L1688.4,841.7L1690.6,849.0L1691.6,856.2L1693.1,862.0L1694.8,863.6L1696.5,864.1L1698.4,868.8L1699.9,874.1L1701.6,882.0L1703.2,891.5L1704.7,900.0L1706.6,905.8L1708.3,908.7L1710.0,910.2L1711.8,908.2L1713.4,905.1L1714.7,902.6L1715.9,899.2L1717.3,891.9L1718.4,883.0L1719.9,866.9L1721.5,856.7L1723.5,865.7L1725.2,875.0L1726.9,881.6L1728.6,875.9L1730.3,865.8L1731.9,852.5L1733.6,840.2L1735.3,833.5L1737.0,826.7L1738.6,820.6L1740.4,814.7L1742.1,812.8L1743.8,809.7L1745.2,805.1L1746.3,802.0L1747.5,805.3L1748.9,810.6L1750.1,812.0L1751.4,813.0L1752.7,816.6L1753.9,818.5L1755.6,813.5L1757.3,798.4L1759.0,777.5L1760.7,757.4L1762.4,734.4L1763.2,719.0L1764.9,730.7L1766.6,710.8L1767.7,702.9L1769.1,696.7L1770.4,692.6L1771.7,688.4" stroke="#fa4646"/>
<path d="M263.0,1021.7L264.5,1021.9L266.1,1021.6L267.7,1020.6L269.2,1020.0L270.6,1020.2L271.9,1020.5L273.5,1019.9L274.9,1020.7L276.4,1020.7L277.9,1021.5L279.5,1021.1L281.0,1021.2L282.3,1021.4L284.0,1019.1L285.3,1016.2L286.7,1012.9L288.3,1011.8L289.7,1012.1L291.2,1012.7L292.7,1014.8L294.6,1017.2L296.4,1019.5L297.9,1021.0L299.7,1014.3L300.9,1004.9L302.3,996.8L303.9,989.9L305.1,986.1L306.4,983.4L308.1,987.3L309.8,992.2L311.7,998.8L313.5,1004.6L315.8,1008.6L317.3,1007.2L318.7,1004.3L320.5,998.3L321.7,991.6L323.9,969.4L326.2,946.7L327.6,946.6L329.2,947.0L330.6,946.8L332.1,944.6L334.1,943.6L335.8,942.5L338.1,951.4L339.5,957.7L341.0,965.6L342.9,975.4L344.8,982.1L346.3,977.6L347.7,971.6L349.3,964.1L350.7,956.9L352.9,947.0L354.4,943.2L355.9,939.4L357.4,932.6L358.9,926.3L360.4,918.9L362.3,914.9L363.9,916.2L365.6,918.9L367.6,923.9L369.3,930.0L371.2,937.8L373.0,946.8L374.9,956.4L376.7,966.4L378.6,975.2L380.4,983.3L381.8,992.0L383.1,997.6L384.4,994.2L385.6,988.6L387.2,976.3L388.6,962.6L390.1,947.5L391.6,932.8L393.8,915.8L395.1,909.2L396.8,905.1L398.3,906.0L399.8,909.7L401.7,916.8L403.5,924.7L405.3,930.7L407.2,936.1L408.5,941.4L409.9,946.0L411.7,951.6L413.0,954.0L414.4,956.3L416.0,958.1L417.6,959.7L419.1,961.6L420.6,963.3L422.1,965.0L423.5,965.9L425.1,968.0L426.5,969.9L428.0,971.7L429.4,973.6L430.8,976.3L432.4,979.1L433.9,982.1L435.4,984.0L436.9,985.7L438.3,986.5L439.8,987.5L441.4,988.6L442.8,990.0L444.2,990.2L445.8,991.8L447.3,991.6L448.8,993.2L450.3,993.7L451.8,993.8L453.4,993.7L454.8,994.8L456.3,994.4L457.8,995.3L459.3,996.3L460.7,997.3L462.2,999.1L463.7,1000.2L465.1,1000.4L466.6,1001.9L468.1,1002.8L469.5,1004.2L471.0,1004.2L472.5,1004.8L474.1,1005.4L475.6,1005.9L477.1,1006.2L478.6,1005.9L480.1,1005.8L481.6,1005.2L483.0,1005.6L484.5,1005.6L485.9,1005.4L487.4,1005.4L488.9,1005.8L490.3,1005.8L491.8,1005.2L493.3,1005.5L494.8,1005.7L496.4,1006.8L497.9,1006.1L499.4,1007.2L501.0,1007.3L502.6,1007.2L504.2,1006.9L505.6,1007.9L506.8,1007.5L508.4,1008.9L509.8,1009.7L511.5,1010.7L513.5,1012.1L515.2,1011.1L517.0,1011.2L518.7,1009.7L520.7,1008.4L522.4,1004.8L524.0,1001.9L525.4,997.0L527.6,989.6L529.1,980.8L530.3,969.6L532.1,968.9L533.5,962.1L535.0,944.1L536.2,932.1L537.4,930.4L539.2,937.2L541.0,932.0L542.2,928.4L543.2,943.6L544.2,961.9L546.2,960.3L548.1,969.0L550.2,975.5L551.5,974.2L552.9,970.9L555.1,959.1L557.3,947.2L559.1,935.4L560.9,920.5L562.5,936.7L564.0,943.6L566.2,938.5L568.5,932.3L570.1,928.5L571.9,925.4L573.1,927.7L574.4,929.7L575.9,929.4L577.4,928.4L578.9,929.8L580.4,931.1L582.3,930.0L584.1,929.7L585.7,927.2L587.1,923.5L588.5,920.3L590.0,917.7L591.5,915.8L593.0,914.6L594.6,916.0L596.0,919.2L597.6,923.5L599.0,929.6L600.5,936.3L601.9,944.1L603.4,951.1L604.9,958.5L606.3,965.9L607.9,972.1L609.3,977.8L610.8,983.0L612.1,986.8L613.6,989.8L615.3,993.2L616.6,994.7L618.0,996.1L619.6,998.3L621.2,999.2L622.6,1000.1L624.1,1000.1L625.6,1001.1L627.2,1000.8L628.7,1000.8L630.2,1002.1L631.7,1002.1L633.1,1002.2L634.6,1003.1L636.1,1003.9L637.6,1004.3L639.1,1005.1L640.6,1005.2L642.1,1006.4L643.5,1006.5L645.0,1007.0L646.5,1007.8L648.0,1008.8L649.5,1009.2L651.0,1009.7L652.4,1009.5L653.9,1010.7L655.4,1011.3L656.9,1011.6L658.4,1011.5L659.8,1012.2L661.3,1012.3L662.8,1011.7L664.3,1012.2L665.8,1011.8L667.3,1012.9L668.8,1013.0L670.3,1012.7L671.8,1012.6L673.3,1013.7L674.8,1013.5L676.3,1013.9L677.7,1014.8L679.2,1014.6L680.7,1015.9L682.2,1016.4L683.7,1016.7L685.2,1016.6L686.6,1016.7L688.1,1017.4L689.6,1016.9L691.1,1016.5L692.6,1016.8L694.1,1017.1L695.6,1016.1L697.2,1016.2L698.7,1017.2L700.2,1016.4L701.7,1016.9L703.0,1016.7L704.7,1016.7L706.2,1016.6L707.9,1015.9L709.4,1016.1L710.9,1016.3L712.5,1016.6L714.1,1017.7L715.8,1017.9L717.3,1018.2L718.7,1017.9L720.2,1018.4L721.8,1019.4L723.3,1019.0L724.9,1020.0L726.4,1019.8L727.9,1019.9L729.6,1019.2L731.3,1018.7L732.9,1018.6L734.4,1018.2L735.8,1018.5L736.9,1018.9L738.2,1019.7L739.6,1019.9L740.7,1020.0L742.2,1019.9L744.0,1019.7L745.8,1020.4L747.7,1019.7L749.5,1019.8L751.3,1020.1L752.7,1020.0L754.5,1020.5L756.0,1020.4L757.6,1020.8L759.3,1021.4L760.8,1022.0L762.4,1022.0L764.2,1022.4L765.9,1021.8L767.7,1022.5L769.4,1022.1L771.1,1022.4L772.5,1022.5L774.3,1022.8L775.8,1023.3L777.4,1023.5L779.1,1023.3L780.6,1022.8L782.1,1022.6L783.7,1023.4L785.4,1022.9L787.2,1023.1L788.9,1022.9L790.6,1022.7L792.3,1022.8L794.0,1022.9L795.6,1022.7L797.3,1022.9L798.9,1023.3L800.6,1023.0L802.2,1023.7L803.9,1023.7L805.5,1023.5L807.1,1024.0L808.8,1024.0L810.4,1023.9L812.1,1024.0L813.7,1024.9L815.4,1025.0L817.0,1025.0L818.7,1025.3L820.4,1025.1L822.1,1025.1L823.8,1025.5L825.5,1025.7L827.2,1025.0L828.8,1025.7L830.4,1025.0L831.9,1025.2L833.6,1025.7L835.3,1025.9L836.8,1025.5L838.4,1026.3L839.8,1026.2L841.7,1026.5L843.4,1026.9L845.1,1028.7L846.9,1029.8L848.5,1032.3L850.3,1035.3L851.8,1035.7L853.3,1037.3L854.8,1039.2L856.3,1039.6L857.9,1038.4L859.6,1035.2L861.2,1033.2L862.9,1032.1L864.7,1033.4L866.4,1034.8L868.1,1036.6L869.8,1035.3L871.3,1033.4L872.8,1031.6L874.3,1028.9L876.1,1026.3L877.3,1025.8L878.8,1025.9L880.4,1025.3L882.0,1025.2L883.5,1024.8L885.2,1024.1L886.8,1023.2L888.4,1022.7L889.9,1022.2L891.7,1021.9L893.4,1021.2L895.2,1021.1L896.8,1021.5L898.4,1022.5L900.1,1022.8L901.8,1023.1L903.4,1024.2L905.1,1024.6L906.8,1024.5L908.4,1024.9L910.2,1024.7L911.9,1025.5L913.6,1026.2L915.4,1025.2L917.1,1023.3L918.9,1022.0L920.7,1022.3L922.5,1022.9L924.2,1023.4L926.2,1025.2L928.1,1026.8L929.6,1026.6L931.3,1025.7L932.9,1025.0L934.1,1025.1L935.0,1025.4L936.5,1025.9L938.4,1026.8L940.3,1026.5L942.2,1026.0L944.2,1025.0L945.8,1024.8L947.6,1024.7L949.3,1024.5L950.8,1024.4L953.0,1027.1L954.8,1029.3L956.7,1027.3L958.5,1025.1L960.7,1028.5L962.7,1040.9L964.4,1037.3L966.6,1033.1L968.5,1033.6L970.6,1034.1L972.4,1034.6L974.2,1036.0L975.9,1036.1L977.9,1034.0L979.8,1031.8L981.3,1030.2L982.9,1029.2L984.6,1027.6L986.4,1026.7L987.9,1026.0L989.5,1026.9L991.2,1027.0L992.8,1027.8L994.3,1028.4L996.0,1028.4L997.6,1027.2L999.3,1027.2L1000.9,1027.2L1002.5,1026.8L1004.1,1026.9L1005.8,1026.2L1007.4,1026.9L1008.8,1026.9L1010.7,1026.0L1012.4,1025.7L1014.1,1025.5L1015.8,1025.5L1017.5,1024.3L1019.2,1024.4L1020.7,1023.7L1022.7,1024.9L1024.7,1025.7L1026.4,1026.7L1028.1,1027.7L1029.9,1029.0L1031.6,1029.5L1033.3,1029.6L1035.0,1030.3L1036.5,1030.6L1038.6,1030.8L1040.5,1031.1L1042.5,1030.5L1044.5,1030.8L1046.5,1029.3L1048.4,1026.9L1050.5,1025.4L1052.4,1023.9L1054.3,1020.0L1056.3,1028.8L1057.8,1029.9L1059.7,1031.5L1061.6,1031.4L1063.3,1031.5L1065.1,1032.1L1066.9,1031.2L1068.5,1031.3L1070.1,1031.3L1071.8,1031.0L1073.5,1030.0L1075.1,1030.5L1076.8,1030.5L1078.4,1030.6L1080.1,1030.2L1081.7,1030.8L1083.4,1030.4L1085.0,1030.8L1086.7,1030.0L1088.3,1030.2L1089.8,1029.1L1091.4,1029.2L1093.2,1029.3L1094.7,1029.7L1096.2,1029.4L1097.9,1029.3L1099.6,1029.9L1101.3,1029.7L1103.0,1030.2L1104.8,1030.1L1106.4,1031.3L1108.1,1030.7L1109.8,1031.3L1111.6,1031.0L1113.3,1031.5L1115.0,1031.6L1116.6,1031.4L1118.2,1031.7L1119.6,1032.0L1121.4,1031.9L1123.1,1032.8L1124.6,1032.4L1126.2,1032.2L1127.8,1032.1L1129.4,1032.9L1131.0,1031.6L1132.8,1031.4L1134.2,1032.2L1135.8,1031.1L1137.4,1031.4L1139.1,1031.6L1140.9,1031.3L1142.6,1030.8L1144.3,1031.2L1146.0,1031.1L1147.7,1030.2L1149.4,1030.8L1151.1,1030.1L1152.8,1030.1L1154.5,1029.7L1156.1,1030.2L1157.7,1029.0L1159.2,1029.4L1161.0,1029.1L1162.7,1028.6L1164.3,1028.8L1165.8,1027.5L1167.1,1027.0L1169.3,1026.4L1171.1,1023.9L1172.5,1020.7L1173.7,1017.9L1175.1,1013.2L1176.4,1006.4L1178.2,991.4L1179.9,975.1L1181.9,958.9L1183.9,943.1L1185.4,930.4L1187.3,920.2L1188.8,915.7L1190.7,912.4L1192.4,913.6L1194.1,914.8L1195.5,916.9L1196.8,919.9L1198.6,929.6L1200.1,940.7L1201.3,949.2L1202.8,957.1L1203.9,962.6L1205.3,969.1L1206.9,974.4L1208.9,979.1L1210.5,982.0L1212.3,983.5L1214.1,985.6L1215.9,987.1L1217.6,990.0L1219.3,992.1L1221.0,995.6L1222.8,997.1L1224.7,999.6L1226.4,1000.7L1228.2,1002.2L1230.0,1003.4L1231.8,1004.5L1233.5,1005.1L1235.4,1005.1L1237.2,1004.1L1239.0,1004.0L1240.5,1002.4L1242.7,995.7L1243.8,986.9L1244.9,978.3L1246.3,973.1L1247.8,967.9L1249.3,963.4L1250.8,956.2L1252.4,949.8L1254.0,942.8L1255.4,941.0L1257.1,944.3L1258.5,953.8L1259.8,962.6L1261.5,981.3L1263.3,998.3L1264.6,1004.1L1266.1,1008.4L1267.7,1011.0L1269.2,1009.9L1270.8,1007.5L1272.1,1004.8L1274.2,995.4L1275.6,984.2L1277.4,965.9L1279.0,944.0L1280.5,925.8L1281.8,910.7L1283.2,898.0L1284.7,887.9L1286.6,882.4L1288.3,883.0L1290.0,886.6L1291.8,890.3L1293.4,894.2L1295.4,888.9L1297.4,864.3L1298.6,850.0L1299.9,840.8L1301.5,850.8L1302.8,878.3L1304.1,892.4L1305.5,905.4L1307.6,925.0L1309.1,935.3L1310.9,942.5L1312.1,947.5L1313.6,950.3L1314.9,948.8L1316.4,947.3L1317.7,945.5L1319.5,942.6L1321.1,938.7L1322.8,929.9L1324.3,917.1L1326.5,909.2L1328.1,908.2L1329.7,908.2L1331.4,905.2L1333.0,902.9L1334.6,904.8L1336.2,908.4L1337.7,914.0L1338.9,921.3L1340.3,927.3L1341.5,929.7L1342.7,932.0L1344.4,938.3L1345.9,943.3L1347.4,930.9L1348.4,909.5L1349.5,888.3L1350.8,875.7L1352.0,882.6L1353.2,893.4L1354.4,905.0L1355.7,917.4L1357.0,931.7L1358.6,944.9L1360.2,952.0L1362.0,945.3L1363.8,934.5L1365.4,914.6L1367.0,893.3L1368.5,879.0L1370.1,865.3L1371.5,859.8L1373.1,872.0L1374.3,893.5L1375.5,910.7L1376.7,925.4L1378.7,941.6L1380.2,934.7L1382.4,926.0L1383.6,925.0L1385.0,923.1L1386.5,922.5L1388.1,920.8L1389.8,919.3L1391.3,918.4L1392.6,919.1L1393.8,919.9L1395.1,917.1L1396.2,911.0L1397.8,903.1L1399.4,893.1L1400.9,878.6L1402.3,862.1L1404.0,854.8L1405.8,858.8L1407.5,867.9L1408.7,876.2L1410.0,883.8L1411.2,887.2L1412.4,890.6L1413.8,900.7L1415.6,908.5L1417.3,907.2L1418.9,905.6L1420.2,906.9L1421.3,910.2L1422.6,912.7L1423.7,914.7L1425.6,899.8L1427.0,877.5L1428.3,868.0L1429.7,863.1L1431.8,872.9L1434.0,886.0L1435.7,881.1L1437.5,872.4L1438.8,865.5L1440.0,858.0L1441.0,840.6L1443.2,828.3L1444.8,829.9L1446.4,830.5L1447.9,827.6L1449.2,826.6L1450.9,831.4L1452.1,841.5L1453.1,852.2L1454.5,862.5L1455.8,865.9L1457.2,868.1L1458.6,871.0L1460.3,875.1L1461.8,880.4L1463.5,885.0L1465.1,890.1L1466.3,894.2L1467.5,897.2L1468.4,896.8L1470.1,895.5L1472.2,893.5L1473.6,894.2L1475.0,894.0L1476.9,886.9L1477.8,874.4L1479.7,846.3L1481.6,798.8L1483.2,760.7L1485.4,738.0L1487.0,743.4L1488.7,754.7L1490.3,769.5L1491.9,778.3L1493.6,772.9L1495.2,763.1L1496.6,747.2L1497.6,730.2L1498.9,710.3L1500.0,689.8L1501.0,663.3L1502.5,640.6L1503.7,636.9L1504.9,633.0L1506.5,592.5L1508.2,514.9L1509.6,474.3L1511.4,457.2L1513.0,463.4L1515.0,485.7L1516.4,468.4L1517.7,450.5L1519.1,474.1L1520.4,501.9L1521.8,527.6L1523.1,501.3L1524.9,444.7L1525.8,454.0L1526.5,488.0L1527.8,508.3L1529.9,535.7L1531.9,562.1L1532.6,573.1L1534.6,600.1L1536.5,555.3L1538.0,488.3L1539.3,434.4L1540.0,392.3L1541.4,434.2L1543.4,515.4L1544.7,555.4L1546.1,562.7L1546.8,573.5L1548.1,621.3L1550.1,653.0L1552.2,627.6L1553.6,585.9L1555.0,530.4L1556.2,474.7L1557.9,375.9L1559.6,316.7L1561.1,346.3L1562.8,412.0L1564.3,474.9L1566.1,544.7L1567.7,600.1L1569.1,620.4L1570.4,654.3L1571.8,695.6L1573.1,722.5L1573.8,767.1L1575.8,792.8L1577.8,767.1L1579.5,717.0L1581.2,681.6L1583.2,701.7L1585.3,735.3L1586.6,780.4L1588.6,807.0L1590.4,828.3L1592.6,840.9L1594.4,836.9L1596.0,829.1L1597.7,807.2L1599.9,781.2L1601.9,809.9L1603.6,801.1L1605.3,772.5L1607.0,757.7L1608.3,755.6L1610.3,773.3L1612.0,798.5L1613.3,789.9L1614.6,781.7L1616.0,794.0L1617.1,814.8L1618.8,848.6L1620.2,861.8L1622.2,874.0L1623.5,880.2L1625.1,885.9L1626.4,889.1L1627.9,880.4L1628.9,865.3L1630.9,839.4L1632.1,852.3L1634.0,866.0L1635.3,864.3L1636.8,860.7L1638.2,857.7L1640.2,850.0L1641.6,840.8L1643.3,815.7L1644.5,779.2L1645.8,786.2L1647.5,797.9L1649.2,807.3L1650.9,815.6L1652.2,821.8L1653.4,824.9L1654.7,821.6L1655.9,814.7L1657.7,802.8L1659.3,790.2L1660.9,776.7L1662.7,764.7L1664.0,757.0L1665.4,749.4L1666.9,746.7L1668.2,748.0L1669.5,751.1L1670.8,755.0L1672.0,757.6L1673.7,744.5L1675.7,731.5L1677.9,756.5L1679.6,790.2L1681.3,813.7L1682.5,815.1L1683.8,815.1L1685.2,813.2L1686.4,809.7L1687.5,807.3L1688.9,805.5L1690.6,804.0L1692.3,803.5L1694.1,806.5L1695.6,811.2L1697.4,814.6L1699.0,819.0L1700.4,825.1L1701.6,832.3L1702.8,840.2L1704.1,848.7L1705.4,858.4L1707.0,864.5L1708.5,862.6L1710.0,857.1L1711.8,849.6L1713.4,840.1L1715.1,832.2L1716.8,824.1L1718.2,807.2L1719.3,789.4L1720.6,766.2L1721.8,751.2L1723.1,766.5L1724.4,789.4L1726.0,814.6L1727.7,824.8L1729.4,825.2L1731.1,823.6L1732.6,818.9L1733.6,811.9L1735.3,805.3L1737.0,798.5L1738.6,792.1L1740.4,786.6L1741.9,781.9L1743.8,780.1L1745.4,780.1L1747.2,779.4L1748.9,778.1L1750.5,776.1L1752.4,777.7L1753.9,781.0L1755.6,791.6L1757.3,778.5L1758.5,771.3L1759.8,764.5L1761.1,757.6L1762.4,751.4L1764.1,739.5L1765.7,717.3L1767.0,708.9L1768.3,704.2L1770.0,718.4L1771.7,713.8" stroke="#0873e1"/>
<path d="M263.0,939.2L264.7,939.1L266.4,939.6L268.1,939.7L269.7,940.0L271.5,939.4L273.1,938.0L274.9,937.0L276.4,937.0L277.9,936.7L279.5,936.3L280.8,935.7L282.8,934.3L284.6,932.7L286.4,930.3L288.3,928.7L289.7,928.7L291.2,929.0L292.7,929.9L294.3,930.8L295.9,932.0L297.2,932.2L298.9,928.4L300.2,922.3L301.6,917.7L303.1,912.9L304.5,907.8L306.1,906.0L307.9,908.1L309.8,911.2L311.7,916.2L313.5,919.8L315.4,918.2L317.3,915.6L318.9,910.7L320.2,906.6L322.5,894.5L323.9,880.2L326.2,869.4L327.6,869.5L329.2,869.7L330.6,868.0L332.1,866.0L334.0,865.3L335.8,866.2L337.5,867.7L338.8,869.7L340.4,874.8L341.8,879.8L343.0,883.6L344.3,886.6L345.7,883.6L347.0,879.2L348.5,875.2L350.0,869.1L351.4,863.7L352.9,859.2L354.7,852.9L356.7,847.6L358.0,843.4L359.5,839.8L361.1,837.7L362.6,837.8L364.1,839.5L365.6,842.4L367.2,844.2L368.7,847.6L370.0,850.4L371.6,855.7L373.1,860.4L374.5,865.3L376.5,873.0L378.2,879.2L380.4,892.7L382.2,897.2L384.2,893.3L386.4,879.8L387.8,871.5L389.4,861.5L390.7,853.3L392.3,845.0L393.9,841.0L395.7,839.0L397.1,840.4L398.5,841.9L399.8,845.5L401.7,851.9L403.5,859.1L405.3,865.1L407.2,870.9L408.6,874.5L410.0,878.0L411.7,881.6L413.0,883.3L414.4,885.8L416.1,887.4L417.7,888.6L419.5,889.4L421.3,890.2L422.8,891.0L424.8,893.0L426.5,895.8L428.0,897.8L429.5,899.9L431.0,901.7L432.4,904.4L433.8,906.7L435.4,909.5L436.8,911.0L438.2,911.1L439.8,911.9L441.4,913.2L442.8,914.5L444.3,914.7L445.8,915.3L447.3,916.3L448.8,917.2L450.3,917.0L451.8,917.9L453.3,917.8L454.8,917.7L456.3,918.3L457.8,919.0L459.3,919.6L460.7,920.4L462.2,920.3L463.7,921.7L465.2,922.2L466.7,923.3L468.1,924.6L469.6,925.5L471.1,926.3L472.6,926.6L474.1,926.9L475.6,927.9L477.1,927.6L478.5,927.7L480.0,927.7L481.4,927.5L483.0,927.1L484.4,926.9L485.8,927.0L487.4,926.4L488.9,926.8L490.4,927.2L491.9,927.3L493.4,927.9L494.8,927.8L496.3,927.8L497.9,928.8L499.3,929.0L500.9,928.5L502.5,927.9L504.1,927.8L505.5,928.8L506.8,928.3L508.8,928.7L510.5,930.3L511.9,931.7L513.5,932.3L515.1,931.9L517.0,931.9L518.7,931.2L520.7,928.3L522.4,926.4L524.0,921.6L525.4,916.8L527.6,911.4L529.4,902.0L530.6,892.5L532.8,889.2L534.3,879.9L535.3,869.9L536.5,857.7L538.0,856.7L539.2,859.1L540.7,857.8L542.2,855.0L543.2,862.5L544.2,880.6L546.2,881.7L548.4,889.1L550.6,893.4L552.9,888.7L555.1,878.3L557.3,868.0L559.1,860.7L561.0,846.3L562.5,854.5L564.0,862.3L566.2,857.5L568.5,854.5L570.7,851.7L572.2,850.1L574.4,851.4L575.9,852.2L577.4,851.4L578.9,853.2L580.4,854.4L582.3,854.6L584.1,853.3L585.7,851.3L587.1,849.4L588.5,845.4L590.0,843.4L591.4,841.3L592.7,841.0L594.4,842.2L596.0,846.2L597.6,849.9L599.0,854.5L600.5,861.4L601.9,868.2L603.4,874.9L604.9,882.0L606.3,889.6L607.9,896.7L609.2,900.8L610.8,905.7L612.2,908.1L613.7,911.1L615.3,914.3L616.7,916.2L618.1,918.5L619.8,919.1L621.1,919.8L622.6,920.2L624.2,920.6L625.7,921.0L627.2,921.3L628.6,922.3L630.1,923.2L631.7,924.3L633.1,924.0L634.6,924.8L636.1,925.6L637.6,926.1L639.1,926.1L640.6,926.6L642.1,927.7L643.5,928.7L645.0,929.7L646.5,930.3L648.0,931.0L649.5,931.4L651.0,931.7L652.5,932.3L654.0,932.1L655.4,932.3L656.9,932.8L658.4,933.4L659.9,933.2L661.4,933.5L662.8,933.9L664.4,933.3L665.9,934.2L667.4,933.6L668.9,933.6L670.3,934.8L671.9,934.2L673.3,935.1L674.7,935.2L676.3,935.5L677.7,936.5L679.1,936.5L680.6,936.4L682.1,937.6L683.7,937.1L685.1,937.2L686.5,937.9L688.1,937.8L689.6,937.3L691.1,937.0L692.6,937.7L694.1,937.0L695.6,937.7L697.1,937.8L698.6,937.7L700.1,937.8L701.6,937.9L703.0,936.9L704.5,937.6L706.0,937.2L707.5,937.1L709.0,937.4L710.5,937.0L712.1,937.6L713.6,937.5L715.2,938.9L716.8,938.9L718.3,939.5L719.8,939.9L721.5,939.8L723.1,940.4L724.7,941.1L726.4,941.1L727.9,941.3L729.5,940.9L731.1,940.3L732.8,939.9L734.3,939.7L735.6,939.8L737.5,940.5L739.6,941.2L740.9,940.8L742.4,941.4L744.1,941.2L746.0,941.1L747.8,940.9L749.6,940.8L751.3,940.3L752.7,940.5L754.6,941.6L756.2,941.7L757.7,942.1L759.3,942.7L761.0,942.2L762.6,943.1L764.2,943.0L765.9,943.3L767.5,943.7L769.1,942.8L770.8,943.0L772.4,942.9L773.8,942.8L775.6,942.7L777.3,943.2L779.1,943.3L780.5,943.7L782.0,943.8L783.6,943.6L785.2,943.6L786.8,943.8L788.3,944.4L789.7,944.5L791.5,944.3L793.1,943.8L794.9,943.2L796.3,944.0L797.7,943.8L799.2,943.6L800.7,943.8L802.3,944.8L803.9,945.3L805.5,945.1L807.1,944.8L808.8,945.0L810.5,944.9L812.3,944.8L814.0,945.4L815.7,944.9L817.2,945.8L818.7,945.6L820.5,945.4L822.1,945.7L823.7,945.7L825.3,945.2L826.9,945.3L828.6,945.3L830.2,945.4L831.9,945.6L833.6,946.5L835.3,947.1L837.0,946.8L838.5,946.8L840.2,946.5L841.8,946.6L843.3,946.7L844.9,947.3L846.4,949.0L848.4,951.1L850.3,954.4L852.0,956.8L853.6,960.1L855.3,961.9L856.8,960.8L858.2,959.6L859.6,957.3L861.3,954.3L862.9,952.8L864.4,955.5L866.2,958.6L867.8,958.4L869.7,957.2L871.4,956.2L873.4,952.3L875.4,949.2L876.9,948.9L878.6,949.3L880.4,949.0L882.0,949.4L883.9,947.7L885.9,945.9L887.3,946.3L888.8,944.8L890.4,944.8L892.1,944.0L893.7,943.5L895.2,943.5L896.9,943.4L898.5,944.3L900.1,945.3L901.8,944.8L903.4,945.3L905.1,945.4L906.8,945.0L908.4,945.1L910.1,945.1L911.8,946.2L913.6,946.5L915.1,945.7L916.8,945.4L918.4,944.5L920.1,944.2L921.5,943.9L923.4,944.8L925.1,945.7L926.8,946.9L928.6,947.7L930.5,947.4L932.1,947.9L933.7,946.3L934.7,945.4L935.0,945.9L936.1,946.6L938.0,948.0L940.0,947.8L941.6,948.4L943.0,947.6L944.2,945.9L946.1,945.8L948.2,946.3L950.0,947.7L951.7,950.9L953.5,952.0L955.2,949.7L957.0,947.1L958.5,946.1L960.3,949.1L962.7,959.2L964.2,957.6L966.0,954.4L968.0,952.6L969.9,951.4L971.6,953.5L973.2,955.7L975.2,955.5L977.2,953.7L978.5,952.2L979.8,951.3L981.8,950.8L983.8,949.9L985.7,947.9L987.7,947.3L989.2,946.9L990.8,946.8L992.5,948.0L994.1,947.7L995.7,948.9L997.4,948.3L999.1,947.6L1000.9,948.1L1002.3,947.9L1003.9,948.1L1005.6,947.8L1007.3,947.2L1008.9,947.7L1010.3,947.1L1011.5,947.3L1012.9,946.8L1014.1,946.1L1015.9,946.8L1017.8,948.1L1019.4,948.1L1021.4,946.3L1022.7,945.6L1024.3,946.5L1025.9,947.7L1027.3,948.2L1028.6,949.2L1029.9,951.1L1031.6,950.8L1033.5,950.6L1035.2,949.9L1036.9,951.2L1038.5,952.4L1039.9,952.4L1041.5,951.6L1043.1,950.9L1044.5,950.7L1045.8,948.8L1047.1,948.0L1048.8,948.0L1050.8,949.3L1052.4,948.3L1054.3,944.8L1056.3,946.7L1057.5,949.7L1059.0,952.2L1060.9,950.9L1062.9,950.4L1064.3,951.2L1065.6,953.1L1066.8,952.3L1068.2,950.8L1069.6,951.1L1071.3,950.8L1073.1,950.0L1074.8,950.5L1076.7,950.3L1078.5,951.8L1080.1,951.6L1081.4,951.8L1082.7,950.9L1084.3,951.1L1086.1,950.3L1088.0,950.2L1089.4,949.5L1091.0,949.7L1092.6,949.3L1094.2,949.1L1095.9,949.2L1097.3,950.1L1098.9,950.0L1100.5,949.5L1102.1,950.6L1103.6,949.8L1105.1,950.0L1106.4,950.5L1108.4,950.6L1110.1,951.7L1111.7,951.9L1113.6,951.9L1115.7,951.5L1116.9,951.5L1118.4,951.9L1120.0,952.1L1121.6,952.5L1123.2,953.0L1124.8,952.7L1126.2,952.3L1128.0,953.1L1129.6,952.0L1131.2,951.5L1132.8,951.4L1134.4,951.5L1136.0,952.0L1137.6,951.7L1139.2,951.7L1140.7,951.3L1142.5,950.8L1144.1,950.5L1146.0,950.0L1147.4,950.3L1149.0,949.7L1150.8,950.1L1152.7,949.2L1154.5,949.7L1156.3,949.3L1157.9,948.8L1159.2,949.7L1161.3,949.2L1163.1,948.8L1164.8,948.4L1166.6,948.0L1168.3,947.0L1169.7,945.9L1171.3,943.5L1172.4,940.8L1174.5,938.1L1176.0,930.3L1177.3,918.7L1178.5,907.7L1179.9,893.0L1181.2,878.1L1182.4,867.7L1183.9,858.7L1185.5,852.7L1187.3,849.3L1188.6,851.4L1190.0,853.6L1192.0,857.0L1193.9,856.6L1195.8,858.2L1197.5,862.5L1198.8,868.4L1200.0,873.7L1201.4,878.6L1202.8,883.1L1204.5,888.6L1206.3,893.3L1208.2,897.3L1209.8,898.7L1211.6,900.1L1212.9,900.8L1214.5,902.6L1216.1,903.1L1217.7,903.9L1219.1,905.4L1221.0,908.1L1222.7,910.1L1224.5,913.7L1226.1,915.0L1227.9,917.8L1229.6,919.8L1231.2,921.9L1232.6,922.7L1233.9,924.6L1235.3,925.6L1236.6,925.4L1238.0,924.7L1239.3,923.8L1241.0,919.6L1242.2,915.8L1243.4,910.2L1244.8,903.8L1246.1,895.3L1247.4,888.0L1248.8,880.0L1250.1,873.7L1251.5,867.5L1253.0,859.9L1254.5,855.0L1256.1,859.6L1257.6,868.5L1259.3,884.6L1260.9,901.4L1262.5,912.4L1264.3,922.6L1265.9,927.9L1267.7,931.3L1269.0,929.6L1270.5,927.4L1271.8,925.0L1273.3,921.4L1274.5,915.9L1276.0,898.7L1277.2,878.5L1278.5,857.4L1279.9,837.2L1281.3,817.5L1283.2,800.0L1284.4,792.7L1285.8,786.2L1287.3,783.4L1289.0,785.6L1290.7,789.8L1292.7,799.1L1294.5,805.4L1296.8,787.8L1298.3,773.3L1299.7,765.1L1301.4,781.2L1302.8,807.7L1304.1,827.6L1305.5,845.3L1307.0,859.1L1308.9,869.6L1310.1,875.3L1311.4,881.4L1313.0,883.3L1314.5,882.4L1316.1,879.2L1317.7,875.9L1319.1,873.1L1320.5,870.2L1321.8,867.1L1323.3,857.6L1324.5,844.3L1326.5,834.7L1328.0,832.4L1329.7,830.5L1331.3,829.8L1333.0,831.2L1334.7,832.4L1336.2,835.6L1337.9,839.5L1339.0,845.0L1340.3,851.2L1341.9,858.1L1343.7,865.4L1345.1,868.4L1346.5,859.8L1347.6,844.7L1349.1,821.0L1350.8,805.9L1352.0,812.7L1353.2,823.9L1354.4,836.0L1355.7,849.9L1357.0,861.0L1358.6,871.8L1360.2,876.4L1362.0,870.6L1363.8,861.6L1365.5,845.5L1367.0,828.5L1368.5,811.7L1370.1,794.3L1371.5,786.8L1373.0,799.7L1374.3,820.0L1375.5,839.0L1376.7,854.6L1378.4,867.8L1379.7,860.6L1381.6,851.6L1383.1,847.6L1384.8,845.6L1386.4,846.0L1388.1,846.8L1389.7,846.3L1391.3,846.9L1392.6,846.1L1393.8,845.9L1395.2,841.1L1396.2,833.2L1397.8,823.0L1399.4,812.7L1401.2,800.5L1402.7,787.8L1404.3,769.9L1405.4,773.7L1406.9,784.0L1408.5,796.8L1410.0,806.3L1411.7,812.6L1413.2,819.0L1414.4,827.8L1415.6,835.5L1417.3,837.9L1418.5,837.8L1419.7,837.5L1421.0,840.3L1422.1,843.4L1424.1,845.6L1425.8,833.1L1427.0,812.3L1428.4,796.5L1429.9,788.1L1431.8,796.7L1434.0,811.3L1435.7,805.6L1437.5,796.6L1439.3,783.3L1440.8,768.6L1441.8,754.1L1444.0,743.3L1445.3,742.3L1446.8,742.0L1448.1,741.2L1449.8,735.9L1451.0,731.8L1452.8,737.4L1454.5,746.6L1455.7,752.9L1457.0,757.6L1458.6,760.9L1460.2,764.7L1461.8,771.6L1463.3,781.4L1464.7,792.2L1465.9,800.6L1466.9,808.5L1468.3,814.3L1469.9,816.4L1471.6,818.0L1473.6,821.0L1474.8,822.4L1474.6,823.6L1474.9,817.0L1476.4,800.0L1478.5,779.0L1480.7,756.6L1482.2,738.1L1483.5,711.7L1484.6,689.5L1486.6,670.6L1488.7,677.2L1490.0,687.4L1491.1,697.9L1492.7,705.5L1494.0,701.5L1495.2,693.5L1496.5,684.4L1497.6,673.1L1499.2,641.5L1500.9,608.4L1502.1,592.4L1503.6,573.9L1504.9,555.5L1506.9,501.9L1508.9,447.0L1510.3,406.7L1511.6,395.2L1513.6,399.9L1515.0,420.7L1516.4,400.0L1517.7,387.9L1519.1,413.8L1521.1,440.5L1522.4,456.9L1523.8,434.2L1525.1,399.8L1525.4,372.0L1527.2,407.2L1529.2,433.8L1530.5,453.9L1531.9,474.9L1533.3,502.8L1534.6,519.1L1536.6,475.1L1538.0,420.1L1540.0,318.3L1541.5,372.4L1543.4,447.3L1545.4,474.9L1547.4,501.5L1549.5,556.1L1550.8,571.0L1552.2,555.4L1554.2,487.7L1555.5,434.3L1556.7,366.1L1558.1,284.5L1559.6,245.0L1561.1,280.5L1562.8,361.6L1564.4,452.1L1565.7,514.6L1567.0,555.4L1568.4,568.8L1570.0,604.4L1571.9,655.0L1573.8,695.2L1575.2,717.0L1576.5,728.0L1577.9,704.9L1579.2,668.1L1581.2,624.4L1583.2,668.4L1584.5,688.5L1585.9,709.1L1587.4,732.2L1589.2,752.4L1591.1,764.7L1593.1,771.0L1594.6,765.6L1596.0,755.5L1597.3,743.6L1598.5,731.0L1600.2,717.6L1601.4,727.1L1602.7,737.1L1604.1,727.8L1605.3,714.2L1607.0,697.3L1608.6,693.1L1610.3,702.3L1612.0,731.0L1613.3,725.7L1614.6,719.8L1616.2,747.9L1617.4,765.1L1618.8,781.1L1620.3,792.6L1622.2,803.3L1623.5,808.6L1625.1,814.1L1626.4,816.5L1627.8,809.4L1628.9,797.9L1630.2,783.0L1631.5,773.0L1632.4,778.8L1634.0,786.3L1635.7,786.7L1637.4,784.5L1639.5,776.1L1640.7,764.9L1642.2,748.0L1643.3,730.9L1645.0,707.3L1646.1,713.0L1647.5,722.4L1649.1,730.6L1650.9,739.1L1652.2,744.9L1653.4,748.0L1654.7,741.7L1655.9,730.3L1657.6,717.9L1659.3,705.9L1660.7,696.0L1661.9,688.9L1662.7,676.4L1663.9,673.7L1665.5,671.4L1666.9,669.7L1668.5,674.5L1669.8,681.5L1671.1,685.7L1672.5,684.3L1673.7,680.9L1675.7,660.7L1677.3,682.3L1678.8,713.3L1680.4,738.7L1681.6,746.9L1683.0,751.1L1684.3,748.4L1685.5,744.4L1687.2,736.9L1688.8,739.0L1690.6,740.8L1692.0,743.4L1693.3,745.2L1694.8,747.5L1696.2,748.7L1697.7,750.1L1699.0,751.2L1700.6,757.3L1701.6,763.9L1702.7,770.6L1704.1,776.8L1705.8,782.3L1707.5,785.7L1708.8,783.2L1710.0,778.0L1711.3,771.5L1712.5,764.8L1714.3,756.2L1715.9,747.3L1717.4,731.4L1718.4,714.1L1720.1,688.5L1721.8,676.1L1723.2,687.6L1724.4,706.2L1726.0,742.9L1727.3,743.8L1728.6,742.8L1730.4,741.9L1732.0,739.0L1733.4,733.8L1734.5,727.3L1735.7,720.7L1737.0,714.0L1738.6,707.7L1740.4,702.5L1741.8,697.9L1743.2,694.0L1744.6,691.9L1745.8,694.3L1747.2,697.4L1748.8,697.5L1750.5,696.8L1752.4,691.9L1753.9,688.6L1755.3,692.3L1756.5,696.4L1758.1,690.0L1759.0,672.3L1760.1,662.3L1761.5,653.0L1763.2,647.7L1765.4,615.1L1767.4,627.4L1768.7,634.6L1770.0,639.3L1771.7,628.8" stroke="#0bb26b"/>
<path d="M263.0,869.1L264.5,869.5L266.0,869.5L267.5,869.7L269.0,869.4L270.4,869.2L271.9,869.8L273.5,870.5L275.0,870.1L276.5,870.1L277.9,870.8L279.8,872.0L281.6,872.3L283.1,873.5L285.3,869.1L286.7,868.3L288.3,868.0L289.8,868.2L291.3,869.1L292.8,871.9L294.2,874.8L295.7,877.2L297.3,878.7L298.7,879.9L300.8,873.8L302.4,864.0L304.1,855.2L306.1,850.1L307.5,852.5L309.1,855.5L310.6,859.8L312.3,865.4L314.3,869.8L316.2,870.4L318.0,870.6L319.7,867.8L321.0,863.0L323.2,843.5L325.4,822.4L326.8,820.4L328.4,817.7L330.3,817.1L332.1,816.1L333.9,813.0L335.4,811.2L336.8,812.6L338.1,817.1L339.8,825.3L341.8,833.4L343.7,837.1L345.5,840.1L347.1,835.2L348.5,827.2L350.3,822.0L352.2,816.9L354.1,812.7L355.9,807.6L357.8,801.2L359.6,794.6L361.4,788.3L363.3,784.4L365.2,785.8L367.1,788.6L369.1,795.1L370.8,801.8L372.7,809.4L374.5,816.9L376.4,825.9L378.2,834.2L379.7,841.0L381.2,847.7L382.4,854.3L383.7,858.2L385.4,854.5L387.1,846.3L388.7,830.9L390.1,813.3L391.5,803.8L393.1,795.6L394.7,787.5L396.8,783.5L398.6,785.4L400.5,789.0L402.5,793.4L404.2,799.0L406.0,805.4L407.9,811.2L409.6,814.7L411.7,818.6L413.0,819.3L414.5,820.9L416.1,822.9L417.7,824.0L419.1,824.5L420.6,825.3L422.1,826.2L423.5,826.6L424.9,828.0L426.5,830.2L427.9,831.2L429.3,832.6L430.9,834.2L432.4,836.3L434.0,837.6L435.4,839.5L436.9,840.8L438.3,842.5L439.8,843.0L441.4,844.6L442.8,845.1L444.2,845.2L445.7,845.7L447.2,846.0L448.8,845.7L450.2,846.1L451.8,846.2L453.4,845.4L454.9,845.8L456.5,845.5L457.9,845.3L459.2,845.9L460.9,846.5L462.3,848.6L463.6,849.7L465.2,850.7L466.5,851.8L467.9,852.4L469.5,854.1L471.0,854.6L472.5,855.3L474.1,855.7L475.6,855.3L477.1,856.0L478.6,854.8L480.2,855.0L481.6,854.3L483.0,854.1L484.6,854.7L486.1,853.7L487.5,854.0L488.9,853.7L490.4,854.7L491.9,854.5L493.4,854.9L494.9,855.6L496.3,856.0L497.8,855.7L499.4,855.3L500.9,855.2L502.3,854.9L503.9,854.9L505.5,854.6L507.0,854.8L508.3,854.8L509.8,856.1L511.2,857.3L513.0,858.2L515.0,859.6L516.8,859.4L518.7,859.4L520.7,857.6L522.4,855.1L524.0,850.4L525.4,845.8L526.9,840.3L528.3,835.6L530.3,823.8L532.1,824.4L534.3,808.8L535.8,795.4L537.3,790.8L538.7,794.5L540.2,795.4L541.7,792.5L542.8,794.2L543.9,816.6L545.4,823.8L546.6,822.2L548.4,829.7L550.2,830.9L551.6,828.7L552.9,824.9L554.5,819.4L555.8,812.9L558.1,801.8L559.4,789.7L560.6,782.1L562.1,791.2L563.6,802.6L564.8,799.7L566.2,795.7L567.7,791.8L569.2,789.6L570.6,785.5L572.2,783.2L573.6,784.0L575.2,784.5L576.6,785.2L578.1,784.6L579.6,784.3L581.2,783.9L582.7,784.0L584.1,783.3L585.7,780.2L587.1,777.7L588.5,774.7L590.0,771.2L591.3,769.4L592.7,767.9L594.4,769.3L596.0,773.0L597.9,780.3L599.7,787.8L601.5,795.7L603.4,802.5L604.9,808.8L606.3,815.2L607.9,820.0L609.2,826.2L610.6,830.8L612.3,835.9L613.6,838.3L615.0,840.7L616.5,842.1L618.3,843.8L619.6,844.7L621.1,845.9L622.7,846.9L624.2,846.4L625.7,847.3L627.2,847.6L628.7,848.0L630.1,847.9L631.7,849.1L633.1,849.2L634.6,850.3L636.1,851.0L637.6,851.2L639.1,852.1L640.6,852.3L642.1,852.8L643.5,854.1L645.0,854.0L646.5,854.4L648.0,855.7L649.5,855.5L651.0,856.2L652.5,857.1L654.0,856.5L655.4,856.7L656.9,857.5L658.4,857.2L659.9,857.5L661.4,857.9L662.9,857.9L664.4,857.6L665.8,858.1L667.3,857.8L668.8,858.8L670.3,859.2L671.8,858.6L673.3,858.8L674.8,859.1L676.3,860.0L677.7,860.2L679.2,860.7L680.6,861.4L682.1,861.6L683.7,862.4L685.1,862.4L686.5,862.2L688.1,863.2L689.6,862.9L691.1,862.5L692.6,862.7L694.1,862.7L695.7,862.4L697.3,863.1L698.8,862.6L700.4,862.4L701.8,863.3L703.0,863.0L704.8,863.1L706.6,863.2L707.9,862.8L709.5,862.7L711.1,863.5L712.8,863.3L714.4,864.1L715.8,863.7L717.6,865.1L719.2,864.6L721.1,865.4L722.6,865.5L724.2,865.2L726.0,865.7L727.9,865.1L729.7,865.0L731.4,865.0L733.0,866.0L734.7,865.1L736.2,866.2L737.8,865.9L739.6,865.7L741.0,866.5L742.5,866.1L744.2,866.5L745.9,866.7L747.6,865.7L749.3,866.6L751.1,866.1L752.7,866.6L754.4,866.0L756.0,865.9L757.7,866.0L759.3,866.1L761.0,865.8L762.6,866.9L764.3,866.5L765.9,866.1L767.6,866.5L769.2,866.8L770.9,866.5L772.5,866.6L774.2,867.4L775.8,867.3L777.5,867.7L779.1,868.0L780.8,867.1L782.4,867.5L784.1,867.7L785.7,867.9L787.4,867.6L789.0,868.3L790.7,867.8L792.3,868.5L794.0,868.9L795.6,868.1L797.3,868.0L798.9,868.6L800.6,868.2L802.2,868.2L803.9,868.0L805.5,867.7L807.1,868.3L808.8,868.2L810.4,868.3L812.1,868.7L813.7,868.7L815.4,868.5L817.0,868.6L818.7,869.7L820.4,869.3L822.0,869.4L823.7,869.4L825.4,868.9L827.1,869.2L828.7,869.0L830.3,869.7L831.9,869.0L833.5,870.1L835.2,869.9L836.8,869.5L838.3,869.9L839.8,869.8L841.1,869.6L843.0,869.2L844.7,867.9L846.4,866.8L847.8,865.8L849.3,863.6L850.7,861.7L852.2,860.4L853.6,859.3L855.2,858.6L856.7,858.4L858.2,858.2L860.0,859.2L861.7,860.3L863.5,861.1L865.3,861.1L867.0,861.6L868.8,861.7L870.5,860.9L872.3,859.9L874.0,859.0L875.4,857.8L876.7,859.0L878.0,861.4L879.4,862.3L881.1,862.7L882.9,863.5L884.6,864.0L886.2,865.1L887.9,864.8L889.6,865.5L891.2,865.6L892.9,865.6L894.5,864.6L896.1,864.7L897.8,865.3L899.4,864.6L901.0,866.0L902.6,866.2L904.2,867.1L905.7,867.1L907.6,867.8L909.3,868.1L911.0,868.3L913.1,869.4L915.0,870.0L916.2,867.7L917.6,865.7L919.0,865.8L920.7,866.5L922.4,867.4L924.2,868.6L925.8,868.6L927.5,868.1L929.2,868.8L930.8,868.9L933.0,869.4L935.1,869.2L936.1,869.9L935.0,870.3L936.0,870.1L938.2,869.6L940.3,869.0L941.9,867.9L943.4,866.6L944.9,865.5L946.6,867.5L948.4,869.5L950.2,870.8L951.7,870.3L953.2,869.5L954.8,868.2L956.4,867.3L958.1,866.7L959.4,865.6L961.4,877.5L962.7,880.0L964.1,877.2L966.0,873.4L967.4,873.0L969.0,873.4L970.6,873.0L972.7,874.0L974.6,874.0L975.9,875.1L977.4,874.6L979.3,872.2L981.2,870.6L983.2,868.5L985.1,867.3L986.4,868.3L987.7,869.0L989.4,868.4L991.2,868.1L993.0,867.7L995.0,868.3L997.0,869.0L998.9,869.1L1000.9,869.2L1002.5,869.3L1004.2,870.2L1006.0,870.0L1007.5,869.9L1009.5,868.8L1011.5,867.7L1013.0,868.0L1014.8,868.3L1016.5,868.7L1018.1,868.3L1020.1,869.2L1022.0,870.9L1024.1,868.8L1026.0,867.6L1027.3,869.6L1028.6,871.7L1030.2,871.8L1032.1,871.3L1033.9,871.3L1035.9,871.2L1037.9,871.7L1039.9,873.2L1041.8,874.4L1043.5,870.6L1045.1,866.9L1046.7,866.2L1048.4,867.3L1049.8,867.3L1051.0,868.4L1052.7,865.8L1054.3,865.0L1056.2,867.0L1058.3,870.5L1059.8,870.4L1061.4,870.0L1062.9,870.0L1064.9,870.0L1066.9,870.2L1068.6,869.9L1070.4,871.3L1072.1,871.5L1073.9,871.1L1075.7,870.3L1077.4,869.7L1079.4,870.1L1081.4,870.4L1083.3,869.4L1085.3,868.6L1087.0,868.3L1088.8,869.1L1090.6,868.7L1092.2,868.8L1093.9,867.7L1095.6,867.9L1097.2,866.9L1099.0,867.9L1100.8,868.3L1102.5,869.3L1104.5,869.7L1106.4,870.1L1108.1,870.0L1109.8,868.8L1111.7,869.0L1113.2,868.1L1114.9,868.9L1116.6,869.1L1118.2,869.9L1119.6,869.4L1121.6,870.5L1123.6,870.1L1124.9,870.8L1126.4,870.7L1128.0,869.6L1129.7,869.1L1131.3,869.2L1132.8,869.2L1134.6,869.1L1136.3,870.2L1137.9,870.1L1139.4,870.3L1141.4,868.8L1143.4,868.0L1145.0,867.4L1146.7,868.5L1148.6,868.8L1150.0,868.9L1151.5,868.0L1153.2,868.1L1154.8,868.8L1156.4,868.1L1157.9,868.4L1159.2,867.7L1161.3,866.7L1163.1,866.7L1165.1,866.6L1167.1,866.8L1169.2,866.3L1171.1,863.6L1172.6,860.2L1173.7,856.4L1174.5,853.2L1175.7,846.8L1177.2,836.6L1178.5,826.6L1179.9,814.0L1181.2,801.1L1182.4,790.2L1183.9,780.6L1185.4,775.2L1187.3,772.8L1188.9,774.4L1190.7,775.8L1192.0,776.0L1193.4,776.5L1194.8,777.9L1196.2,779.9L1197.4,782.2L1199.3,788.6L1200.8,795.2L1202.3,801.7L1204.2,806.6L1205.8,809.6L1207.6,813.6L1209.6,816.5L1211.3,817.9L1213.2,818.9L1215.0,820.3L1216.9,822.7L1218.7,824.5L1220.4,826.7L1221.8,828.8L1223.1,830.8L1224.5,833.9L1226.2,837.0L1227.9,840.7L1229.9,843.4L1231.3,845.4L1232.9,847.8L1234.5,849.4L1235.9,849.5L1237.4,848.6L1238.8,846.3L1240.0,843.8L1241.9,837.8L1243.4,829.4L1244.7,823.0L1246.1,817.5L1247.4,810.6L1248.8,803.4L1250.2,795.7L1251.5,789.2L1253.0,781.5L1254.5,776.9L1256.1,780.8L1257.6,788.0L1259.4,805.0L1260.9,824.4L1262.5,835.5L1264.3,845.2L1265.5,850.3L1267.0,853.2L1268.5,852.0L1270.3,850.6L1271.8,848.7L1273.4,843.3L1274.5,837.6L1275.9,819.2L1277.2,796.9L1278.7,776.5L1280.4,754.4L1281.9,735.6L1283.9,712.4L1285.4,704.2L1287.3,700.9L1289.0,702.8L1290.7,706.3L1292.7,715.2L1294.5,720.9L1296.8,708.1L1298.8,683.9L1300.1,674.2L1301.5,684.3L1302.8,721.1L1304.9,748.3L1306.1,763.4L1307.6,775.9L1309.6,787.1L1311.1,796.3L1313.0,802.3L1314.4,801.0L1316.0,797.1L1317.7,792.5L1319.1,790.9L1320.5,789.7L1321.8,787.6L1323.7,779.4L1325.3,769.1L1327.3,760.5L1328.6,758.7L1330.0,757.1L1331.3,756.3L1333.1,758.1L1334.7,762.1L1336.2,765.4L1337.8,772.5L1339.0,779.4L1340.3,787.2L1341.9,795.7L1343.6,805.9L1345.1,810.2L1346.8,798.9L1348.3,774.6L1349.6,750.5L1350.8,738.8L1352.1,748.3L1353.2,764.5L1354.3,776.2L1355.7,787.2L1356.9,795.3L1358.2,804.1L1359.7,808.7L1361.2,802.7L1363.0,789.8L1364.9,771.1L1366.9,751.8L1368.7,733.0L1370.3,720.2L1371.5,714.7L1373.1,727.0L1374.3,746.4L1375.5,766.6L1376.7,783.4L1378.4,793.7L1379.3,790.5L1380.6,783.5L1382.4,777.6L1383.7,775.4L1385.2,774.3L1386.7,772.4L1388.1,772.7L1389.8,773.9L1391.3,776.0L1392.6,778.2L1393.8,779.8L1395.2,776.5L1396.6,770.2L1397.8,763.2L1399.6,746.5L1401.1,730.7L1402.4,711.4L1404.3,700.2L1405.9,702.4L1407.5,707.9L1408.9,717.4L1410.0,729.0L1411.2,733.1L1412.4,737.8L1413.6,750.3L1415.6,761.0L1416.9,762.0L1418.4,763.4L1419.7,763.8L1421.3,768.5L1422.5,773.1L1423.7,776.0L1425.4,771.0L1427.0,764.2L1428.5,759.7L1430.2,757.3L1431.4,757.7L1432.7,757.8L1434.3,753.3L1435.5,746.6L1436.7,738.8L1438.1,730.9L1439.5,722.5L1440.8,714.1L1441.8,693.1L1444.0,676.7L1445.6,676.2L1447.2,675.5L1449.1,668.8L1450.5,664.2L1452.1,668.9L1453.7,676.5L1455.2,685.0L1457.0,690.8L1458.2,692.6L1459.4,695.0L1461.1,697.7L1462.6,702.1L1464.4,711.8L1465.9,721.8L1466.8,732.4L1468.3,738.1L1469.9,737.2L1471.6,736.8L1473.3,740.4L1474.8,743.7L1476.2,740.8L1477.3,735.4L1478.8,721.9L1479.8,706.3L1481.1,682.3L1482.2,657.2L1483.8,624.9L1484.9,612.2L1486.2,604.7L1487.5,607.9L1488.7,613.4L1489.8,624.1L1491.1,635.0L1493.2,638.5L1495.1,631.7L1497.1,615.5L1498.8,596.8L1500.1,579.8L1502.2,542.4L1503.5,515.6L1505.5,474.7L1507.6,421.0L1508.9,369.4L1510.1,358.9L1511.4,355.0L1513.6,368.9L1515.7,389.7L1517.7,360.8L1519.1,375.7L1521.1,426.8L1522.5,420.2L1523.8,406.6L1525.1,345.8L1526.5,361.9L1527.8,400.2L1529.0,420.4L1530.5,440.6L1532.2,463.5L1533.9,475.8L1535.4,461.4L1536.6,433.7L1538.4,348.1L1540.0,287.6L1542.0,334.9L1544.1,440.8L1545.4,455.9L1547.4,487.8L1549.5,541.8L1550.8,527.4L1552.2,501.7L1554.2,447.3L1555.7,345.6L1557.6,254.2L1559.6,233.3L1561.6,267.3L1563.6,474.3L1565.7,555.9L1567.1,559.7L1568.4,563.0L1569.7,573.7L1571.1,627.0L1573.1,668.2L1574.5,683.7L1575.8,693.1L1577.8,654.5L1579.9,606.8L1581.2,594.3L1583.2,627.9L1584.6,667.7L1586.0,682.1L1587.3,694.7L1588.4,713.4L1589.9,720.2L1591.8,723.8L1593.5,720.1L1595.1,713.4L1596.7,702.2L1597.7,688.1L1599.4,664.2L1600.5,675.0L1601.9,685.8L1603.2,681.6L1604.4,672.4L1606.0,654.4L1607.5,642.7L1608.9,651.6L1610.3,664.4L1612.0,679.0L1613.3,671.9L1614.6,664.8L1616.2,690.0L1617.2,710.2L1618.8,730.7L1620.0,738.5L1621.4,745.2L1623.0,750.8L1624.7,755.5L1626.4,757.8L1627.9,751.0L1628.9,738.7L1630.9,718.1L1632.2,730.6L1634.0,742.3L1635.7,739.4L1637.4,733.7L1639.2,724.7L1640.7,713.7L1642.2,700.9L1643.3,688.5L1644.1,670.1L1645.2,677.2L1646.7,689.7L1647.9,696.2L1649.3,703.7L1650.9,706.3L1652.6,704.4L1654.3,699.5L1656.0,692.0L1657.6,682.4L1658.9,677.4L1660.4,672.8L1661.9,669.9L1663.2,671.4L1664.7,676.0L1666.1,679.9L1667.8,684.0L1669.5,686.1L1671.3,680.8L1672.8,673.0L1674.4,658.1L1675.7,648.6L1677.2,664.6L1678.8,690.0L1680.4,704.5L1682.1,711.8L1683.4,706.1L1684.7,696.9L1685.7,692.5L1687.2,688.0L1688.8,686.5L1690.6,685.2L1692.0,686.4L1693.5,687.9L1694.8,690.6L1696.6,693.0L1698.2,697.3L1700.0,703.7L1701.6,710.6L1703.3,717.2L1704.9,724.3L1706.1,730.2L1707.5,732.9L1709.2,730.8L1710.8,727.1L1712.3,721.2L1713.4,714.0L1714.6,706.5L1715.9,696.6L1717.8,675.4L1719.7,650.5L1721.5,638.7L1722.9,651.6L1724.4,672.2L1725.9,686.6L1727.7,695.1L1729.0,691.7L1730.5,687.1L1732.0,680.7L1733.7,675.7L1735.4,669.2L1737.0,663.7L1738.7,658.6L1740.4,652.8L1741.6,647.9L1743.0,644.1L1744.6,642.3L1746.0,642.4L1747.5,642.9L1748.9,643.8L1750.2,644.4L1751.4,645.2L1752.8,652.6L1753.9,657.5L1755.2,654.2L1756.5,648.8L1758.2,640.3L1759.8,630.0L1761.0,617.3L1762.4,605.5L1764.0,599.9L1765.7,594.9L1767.1,591.4L1768.3,588.6L1770.0,576.7L1771.7,591.6" stroke="#c57fe3"/>
<path d="M263.0,784.1L264.5,783.9L266.0,783.8L267.4,784.3L268.9,785.0L270.4,784.9L271.9,785.0L273.4,785.5L275.0,785.6L276.5,786.6L278.1,786.8L279.6,787.0L281.0,787.6L282.3,786.5L284.0,786.0L285.5,783.4L286.9,781.8L288.3,781.4L289.8,781.0L291.3,782.7L292.7,783.8L294.6,786.5L296.4,790.7L297.9,791.2L300.0,786.6L301.7,778.6L303.0,771.1L304.5,764.9L306.1,761.3L307.5,762.9L309.1,766.3L310.6,769.0L312.1,773.6L313.4,778.5L315.0,781.4L316.9,780.4L318.7,777.8L320.5,774.0L321.7,769.0L323.9,742.4L326.2,723.6L327.6,723.2L329.2,723.6L331.4,720.4L333.2,719.9L335.1,719.7L336.7,720.6L338.1,722.3L339.7,727.8L341.0,733.2L342.9,742.4L344.8,748.1L346.6,743.9L348.5,736.0L350.3,727.8L352.2,721.0L353.7,718.0L355.2,715.8L357.1,709.6L358.9,704.3L360.2,697.5L361.9,693.3L363.7,693.2L365.6,695.0L367.7,700.5L369.3,706.5L371.2,713.9L373.0,721.2L374.9,729.0L376.7,736.7L378.2,743.9L379.7,751.2L381.4,762.4L383.1,768.7L384.8,764.7L386.4,756.8L388.0,745.2L389.4,732.3L390.7,718.5L392.3,706.5L393.9,699.1L396.0,693.8L397.9,695.8L399.8,698.0L401.7,703.2L403.5,709.6L405.3,714.6L407.2,718.8L408.6,722.3L410.0,726.7L411.7,730.6L413.0,732.2L414.5,734.3L416.0,736.8L417.6,738.0L419.1,738.1L420.6,739.2L422.1,739.3L423.6,740.2L425.0,740.7L426.5,742.8L427.9,743.8L429.4,746.2L430.8,749.0L432.3,750.7L434.0,753.2L435.3,754.3L436.8,755.1L438.3,756.0L439.8,756.2L441.4,757.1L442.8,758.2L444.3,758.3L445.9,759.6L447.4,759.9L448.9,760.2L450.3,760.8L451.8,760.8L453.3,760.7L454.7,760.6L456.3,760.0L457.7,760.4L459.2,761.0L460.7,762.3L462.3,762.2L463.8,763.3L465.2,764.0L466.8,764.7L468.2,766.0L469.6,767.2L471.1,767.4L472.6,767.6L474.1,768.6L475.6,768.4L477.1,768.3L478.5,768.2L480.0,767.5L481.5,767.5L483.0,767.5L484.4,767.5L485.9,767.1L487.4,767.5L488.9,767.5L490.4,767.3L491.9,767.4L493.4,768.2L494.8,768.4L496.3,768.2L497.9,768.7L499.4,767.9L500.9,767.7L502.5,767.9L504.1,766.9L505.5,766.6L506.8,766.6L508.8,768.4L510.5,769.7L512.3,770.5L514.2,771.2L515.7,770.4L517.3,769.8L518.7,769.5L520.3,767.3L521.7,765.7L523.2,761.6L524.6,758.3L526.2,753.4L527.6,749.5L529.8,731.2L532.1,729.4L534.3,716.3L535.8,698.9L536.8,696.0L538.3,700.0L539.5,702.9L541.0,697.7L542.2,698.7L543.2,712.1L544.2,731.7L546.2,730.3L547.7,736.3L549.9,739.2L552.1,732.6L554.4,721.9L556.6,712.2L558.8,698.7L560.6,685.6L561.8,691.1L563.3,707.1L565.5,702.9L567.7,695.2L569.2,693.0L570.7,690.4L572.2,691.1L574.4,692.2L576.7,690.1L578.9,692.2L580.5,692.3L582.4,692.0L584.1,691.7L585.8,690.1L587.1,686.9L588.6,683.2L590.0,679.1L592.3,676.0L593.8,676.6L595.2,678.9L596.8,683.7L598.2,690.1L600.0,699.3L601.9,708.9L603.4,715.6L605.0,721.8L606.4,728.1L607.7,735.8L609.4,742.8L610.7,747.0L612.2,749.6L613.8,752.0L615.2,754.2L616.6,756.4L618.3,757.8L619.6,758.2L621.1,757.8L622.7,758.6L624.2,758.9L625.7,758.9L627.2,760.3L628.7,760.6L630.2,760.3L631.7,761.5L633.2,761.8L634.7,761.3L636.1,762.6L637.6,762.5L639.1,763.8L640.5,763.8L641.9,765.1L643.5,765.8L644.9,765.9L646.3,767.1L647.9,767.0L649.4,768.1L651.0,768.7L652.5,769.1L654.0,769.1L655.5,769.9L657.0,770.2L658.5,770.1L659.9,770.4L661.4,770.0L662.9,769.7L664.4,770.0L665.9,770.8L667.3,770.1L668.8,770.3L670.3,770.6L671.8,771.4L673.3,772.4L674.8,772.2L676.3,772.9L677.7,774.0L679.2,773.6L680.6,774.0L682.1,774.7L683.7,775.1L685.1,775.0L686.5,775.7L688.1,775.8L689.6,775.6L691.1,775.2L692.6,775.6L694.1,775.7L695.7,775.5L697.3,775.2L698.8,775.7L700.4,775.8L701.8,775.6L703.0,775.1L704.8,774.4L706.6,774.0L707.8,774.5L709.2,774.4L710.8,775.3L712.4,775.1L714.0,775.1L715.6,775.2L717.1,775.3L718.7,776.1L720.2,776.6L721.8,776.9L723.3,777.8L724.8,778.5L726.4,778.7L727.9,778.3L729.5,777.6L731.2,777.9L732.9,776.9L734.4,776.4L735.8,777.0L736.9,776.1L738.2,776.8L739.6,777.7L740.7,778.2L742.2,778.2L743.9,778.4L745.8,778.9L747.7,778.8L749.5,778.7L751.3,778.6L752.7,779.0L754.6,778.6L756.2,779.8L757.7,779.5L759.3,779.8L761.0,780.1L762.6,780.3L764.2,780.9L765.9,780.3L767.5,780.0L769.1,779.7L770.7,779.1L772.3,778.9L773.8,778.7L775.4,779.1L777.0,779.5L778.5,780.1L780.1,780.5L781.8,780.7L783.2,780.4L784.6,780.4L786.1,780.7L787.6,780.7L789.2,780.9L790.7,781.1L792.3,781.2L793.9,780.4L795.5,781.2L797.1,781.2L798.8,781.4L800.5,781.2L802.2,781.0L803.8,781.5L805.5,781.3L807.2,781.9L808.9,781.4L810.6,781.2L812.4,781.6L814.1,781.4L815.7,781.9L817.3,782.1L818.7,781.8L820.5,781.7L822.1,782.1L823.7,782.2L825.3,782.7L826.9,782.2L828.4,782.5L830.1,783.6L831.9,783.1L833.3,784.1L835.0,783.5L836.7,783.3L838.5,784.1L840.2,783.5L842.0,784.1L843.6,784.1L845.1,783.8L846.9,784.1L848.6,783.9L850.1,784.6L851.7,785.3L853.3,785.0L854.8,785.6L856.3,786.2L857.8,785.3L859.2,783.8L860.9,783.3L862.4,783.8L864.0,783.4L865.7,784.3L867.4,784.4L868.8,784.5L871.0,782.6L872.8,781.5L874.2,779.8L875.4,778.3L877.4,779.3L878.5,779.9L879.8,779.6L881.4,779.9L883.0,779.6L884.6,779.6L886.1,779.4L887.6,778.6L889.1,778.2L890.7,778.1L892.3,777.7L893.8,777.3L895.2,776.7L896.9,776.7L898.5,776.8L900.1,778.1L901.8,778.3L903.3,778.3L905.0,778.4L906.7,778.6L908.3,779.2L909.8,779.2L911.0,780.1L912.4,780.5L913.6,781.8L915.5,780.2L917.6,779.2L919.1,778.7L920.8,779.4L922.5,780.0L924.2,779.5L925.9,779.4L927.6,779.9L929.2,779.8L930.8,780.0L933.1,780.9L934.7,780.8L935.0,779.1L936.1,780.0L938.0,780.7L940.0,781.2L941.6,781.9L943.0,780.6L944.2,778.4L946.2,778.9L948.2,779.3L949.5,780.6L950.8,782.0L952.2,782.8L953.5,783.0L955.4,779.2L956.9,777.5L958.5,777.3L960.3,778.4L961.4,787.9L963.0,794.5L964.2,791.0L966.0,786.3L967.9,786.5L969.9,785.8L971.6,786.7L973.2,788.7L974.7,788.9L976.1,790.0L977.9,786.7L979.8,783.3L981.4,782.2L983.1,782.7L985.0,781.0L987.1,778.8L988.5,778.6L990.1,779.4L991.7,780.0L993.0,781.4L994.4,782.4L995.7,783.8L997.5,781.9L999.6,779.6L1001.3,780.0L1003.1,779.8L1004.9,779.8L1006.9,780.3L1008.8,780.7L1010.6,779.3L1012.5,779.3L1014.1,778.8L1015.5,779.2L1016.8,780.2L1018.8,777.3L1020.7,775.5L1021.9,776.7L1023.4,778.7L1025.0,779.2L1027.0,778.8L1028.6,779.0L1030.0,780.5L1031.3,781.6L1032.9,780.9L1034.8,779.4L1036.5,778.7L1038.6,779.1L1040.5,781.4L1042.2,782.7L1043.8,785.0L1045.3,782.9L1046.9,780.6L1048.4,778.7L1049.7,778.2L1051.0,778.7L1053.1,775.8L1055.0,773.2L1056.6,776.1L1058.3,779.8L1059.9,780.3L1061.6,780.7L1063.6,783.0L1065.6,785.3L1067.4,784.1L1069.5,781.9L1071.2,782.2L1073.1,782.1L1074.8,782.1L1076.9,783.7L1078.7,783.9L1080.0,783.0L1081.4,782.5L1082.6,781.4L1084.2,781.9L1086.0,780.8L1087.9,781.1L1089.9,780.6L1091.7,780.3L1093.2,780.1L1095.0,780.9L1096.7,781.3L1098.2,782.1L1099.8,781.7L1101.4,782.6L1103.0,782.7L1104.6,783.2L1106.4,783.2L1107.9,783.1L1109.6,783.0L1111.3,782.9L1113.1,783.6L1114.9,783.2L1116.6,783.8L1118.2,783.0L1119.6,783.4L1121.5,783.4L1123.2,783.7L1124.9,784.3L1126.4,784.4L1128.0,783.5L1129.6,783.2L1131.3,782.8L1132.8,782.6L1134.5,783.1L1136.2,784.1L1137.8,783.7L1139.4,784.4L1141.0,784.1L1142.6,783.7L1144.2,782.9L1146.0,781.9L1147.5,781.6L1149.1,781.5L1150.8,782.3L1152.6,782.3L1154.4,781.7L1156.1,782.1L1157.7,781.2L1159.2,781.6L1161.0,781.1L1162.7,781.0L1164.3,781.2L1165.8,780.7L1167.7,779.6L1169.5,779.0L1171.1,777.2L1172.7,772.8L1173.7,769.4L1174.5,767.7L1175.7,761.2L1177.2,752.1L1178.5,741.8L1179.9,728.3L1181.2,714.6L1182.4,703.0L1183.9,691.9L1185.3,685.1L1187.0,681.0L1188.5,683.4L1190.0,685.5L1192.0,688.5L1193.9,688.0L1195.8,689.0L1197.6,692.8L1198.8,700.0L1200.1,706.0L1201.5,710.7L1202.8,716.6L1204.1,719.6L1205.5,723.2L1206.7,725.8L1208.1,727.2L1209.6,729.2L1211.3,731.0L1213.2,732.1L1215.0,733.8L1216.9,736.2L1218.7,738.2L1220.4,740.3L1222.3,743.4L1224.1,747.2L1225.8,749.8L1227.2,753.2L1228.4,755.3L1229.9,758.3L1231.6,760.9L1233.4,762.7L1235.3,764.7L1236.7,763.8L1238.1,763.8L1239.3,761.8L1241.0,758.0L1242.2,752.0L1243.4,745.7L1244.8,739.8L1246.1,734.0L1247.4,727.1L1248.8,718.5L1250.2,711.0L1251.5,702.8L1252.9,693.3L1254.5,688.2L1256.0,691.8L1257.6,699.1L1259.4,713.5L1260.9,729.4L1262.5,742.5L1264.3,752.9L1265.8,760.1L1267.7,765.1L1269.0,763.7L1270.5,762.8L1271.8,761.0L1273.4,756.3L1274.5,751.0L1276.0,738.6L1277.2,721.6L1278.5,694.6L1279.9,667.2L1281.2,653.5L1282.6,640.5L1284.6,621.1L1286.1,615.4L1288.0,612.0L1289.7,614.1L1291.4,617.7L1293.2,624.4L1294.7,629.0L1296.8,613.6L1298.0,595.9L1299.3,583.5L1301.0,606.5L1302.8,640.5L1304.1,655.2L1305.5,667.6L1306.8,678.2L1308.2,687.7L1309.6,697.5L1311.1,707.7L1313.0,712.8L1314.5,711.3L1316.1,707.9L1317.7,703.8L1319.2,702.2L1320.6,699.1L1321.8,697.3L1323.2,693.2L1324.5,682.3L1326.5,672.1L1328.0,668.5L1329.7,665.3L1331.3,664.6L1333.1,666.6L1334.7,670.6L1336.2,675.3L1337.8,682.1L1339.0,689.7L1340.3,698.1L1341.9,706.8L1343.7,716.2L1345.1,720.0L1346.5,709.4L1347.6,689.4L1349.2,664.2L1350.8,648.5L1352.0,657.7L1353.2,673.2L1354.3,685.7L1355.7,697.8L1357.3,710.6L1359.2,717.5L1361.1,713.0L1363.0,706.0L1364.6,694.6L1365.8,679.4L1367.0,665.6L1368.6,647.6L1370.1,629.5L1371.5,621.5L1373.0,634.9L1374.3,657.5L1375.5,674.7L1376.7,689.5L1378.8,705.2L1380.0,699.2L1381.6,689.6L1382.7,687.6L1384.0,686.1L1385.3,684.9L1386.7,684.4L1388.1,683.7L1389.8,684.2L1391.3,685.5L1392.7,687.8L1393.8,688.8L1395.1,684.8L1396.2,676.7L1397.8,665.2L1399.4,650.3L1400.8,634.2L1402.3,617.5L1404.3,608.7L1406.0,610.8L1407.5,615.1L1408.9,624.5L1410.0,635.0L1411.1,639.8L1412.4,645.9L1414.1,655.3L1415.6,665.8L1417.3,674.0L1418.5,673.9L1419.7,674.8L1421.0,677.0L1422.1,681.3L1423.3,685.9L1424.6,687.7L1426.0,681.7L1427.8,673.4L1429.1,671.0L1430.6,668.8L1431.8,667.0L1433.5,660.9L1435.1,651.1L1436.7,640.6L1438.4,629.5L1440.0,618.9L1441.3,602.3L1443.2,588.9L1444.8,587.0L1446.4,584.3L1447.9,578.7L1449.3,572.7L1450.5,569.7L1452.1,575.0L1453.7,584.6L1455.3,590.8L1457.0,596.2L1458.2,598.5L1459.4,600.7L1461.1,605.6L1462.6,611.4L1464.4,619.9L1465.9,627.9L1466.8,638.6L1468.3,646.0L1469.9,646.9L1471.6,647.8L1473.4,651.8L1474.8,654.0L1476.5,647.6L1477.8,639.3L1478.9,628.0L1480.6,600.6L1482.2,576.1L1484.1,512.7L1485.8,502.4L1487.1,506.6L1488.4,513.2L1489.5,529.6L1491.1,543.4L1492.4,545.2L1493.7,546.8L1495.3,541.4L1496.4,531.1L1497.8,514.8L1499.0,495.4L1500.4,468.7L1501.6,442.7L1503.4,418.3L1505.1,415.2L1506.9,334.9L1508.9,267.9L1510.9,247.5L1513.0,261.3L1515.0,289.7L1516.4,267.8L1517.7,257.1L1519.1,280.8L1520.4,314.5L1521.8,328.4L1523.1,294.4L1524.5,253.8L1525.4,238.2L1526.5,260.8L1527.8,294.5L1529.9,321.8L1531.9,348.1L1533.2,368.8L1534.6,377.8L1535.9,348.7L1537.3,267.8L1538.4,213.4L1540.0,172.1L1541.1,199.7L1542.7,267.8L1544.1,321.4L1545.4,357.0L1546.8,362.2L1548.1,406.8L1550.1,451.0L1552.2,434.4L1553.5,393.5L1554.9,267.6L1556.2,200.2L1557.8,147.5L1559.6,115.9L1561.1,146.8L1562.3,199.5L1563.6,294.2L1564.3,348.6L1565.0,380.5L1566.4,448.0L1567.7,477.0L1569.1,476.9L1570.4,501.9L1571.8,542.0L1571.1,559.6L1572.1,580.6L1573.8,600.6L1575.8,615.5L1577.8,587.4L1579.9,528.2L1581.2,497.8L1583.2,528.9L1583.2,560.1L1584.5,582.8L1585.9,600.6L1586.7,605.2L1587.8,616.6L1589.2,630.7L1590.4,641.2L1591.8,646.1L1593.0,644.3L1594.3,639.4L1595.7,627.5L1596.8,613.2L1598.1,592.3L1599.4,579.5L1600.6,591.4L1601.9,603.9L1603.2,598.5L1604.4,588.4L1606.0,568.5L1607.5,554.2L1609.0,562.2L1610.3,574.5L1612.0,596.9L1613.3,588.7L1614.6,580.3L1616.2,605.3L1617.9,638.7L1619.4,647.4L1621.3,655.8L1623.0,663.4L1624.8,671.4L1626.4,674.4L1627.8,667.1L1628.9,655.6L1630.9,634.4L1633.1,659.3L1634.4,658.7L1635.7,656.0L1637.7,644.6L1639.1,630.6L1640.4,617.8L1641.6,605.7L1642.9,590.2L1644.1,580.9L1645.3,589.9L1646.7,605.6L1648.1,616.2L1650.0,621.8L1651.3,621.2L1652.6,618.2L1654.4,611.0L1655.9,601.4L1657.5,594.7L1659.3,587.8L1661.0,584.7L1662.7,583.1L1664.5,586.4L1666.1,591.4L1667.8,599.1L1669.5,603.5L1671.2,598.2L1672.8,588.0L1674.4,568.6L1675.7,555.6L1677.9,580.2L1678.9,602.6L1680.4,622.2L1681.7,626.9L1683.0,628.5L1684.5,618.0L1686.4,603.3L1687.5,601.4L1688.9,599.9L1690.2,600.1L1691.7,600.9L1693.1,602.3L1694.7,603.9L1696.0,605.8L1697.3,608.2L1698.9,612.8L1700.3,617.2L1701.6,622.2L1703.2,629.3L1704.9,636.7L1706.3,642.3L1707.8,647.8L1709.2,650.4L1710.7,646.7L1712.1,639.1L1713.4,630.2L1715.2,618.4L1716.8,605.0L1718.1,587.6L1719.3,571.9L1721.5,551.5L1723.5,580.1L1724.8,595.2L1726.9,604.7L1728.6,602.9L1730.3,599.7L1732.1,594.6L1733.6,588.8L1735.3,580.3L1737.0,571.4L1738.6,565.5L1740.4,559.0L1742.1,556.8L1743.8,554.3L1745.4,551.3L1747.2,548.2L1748.5,546.4L1750.1,544.8L1751.4,544.2L1753.4,552.7L1754.8,559.6L1756.0,556.4L1757.3,549.7L1759.0,542.7L1760.7,534.3L1762.3,517.2L1764.1,500.9L1765.4,493.8L1767.0,486.6L1768.3,484.5L1769.8,499.5L1770.8,515.3L1771.7,512.2" stroke="#de9e0b"/>
</g>
<rect x="262.9" y="41.8" width="1511.0" height="1219.2" fill="none" stroke="#000" stroke-width="4.1"/>
<path d="M251.0,1261.00 H262.9 M239.0,1167.22 H262.9 M251.0,1073.43 H262.9 M239.0,979.65 H262.9 M251.0,885.86 H262.9 M239.0,792.08 H262.9 M251.0,698.29 H262.9 M239.0,604.51 H262.9 M251.0,510.72 H262.9 M239.0,416.94 H262.9 M251.0,323.15 H262.9 M239.0,229.37 H262.9 M251.0,135.58 H262.9 M239.0,41.80 H262.9 M262.90,1261.0 V1284.5 M393.16,1261.0 V1273.0 M523.42,1261.0 V1284.5 M653.68,1261.0 V1273.0 M783.93,1261.0 V1284.5 M914.19,1261.0 V1273.0 M1044.45,1261.0 V1284.5 M1174.71,1261.0 V1273.0 M1304.97,1261.0 V1284.5 M1435.23,1261.0 V1273.0 M1565.49,1261.0 V1284.5 M1695.74,1261.0 V1273.0" stroke="#000" stroke-width="4" fill="none"/>
<text transform="translate(222.6,1183.72) scale(1,1.042)" font-size="51.8" text-anchor="end">0.00</text>
<text transform="translate(222.6,996.15) scale(1,1.042)" font-size="51.8" text-anchor="end">0.05</text>
<text transform="translate(222.6,808.58) scale(1,1.042)" font-size="51.8" text-anchor="end">0.10</text>
<text transform="translate(222.6,621.01) scale(1,1.042)" font-size="51.8" text-anchor="end">0.15</text>
<text transform="translate(222.6,433.44) scale(1,1.042)" font-size="51.8" text-anchor="end">0.20</text>
<text transform="translate(222.6,245.87) scale(1,1.042)" font-size="51.8" text-anchor="end">0.25</text>
<text transform="translate(222.6,58.30) scale(1,1.042)" font-size="51.8" text-anchor="end">0.30</text>
<text transform="translate(262.90,1342.2) scale(1,1.042)" font-size="51.8" text-anchor="middle">3500</text>
<text transform="translate(523.42,1342.2) scale(1,1.042)" font-size="51.8" text-anchor="middle">3000</text>
<text transform="translate(783.93,1342.2) scale(1,1.042)" font-size="51.8" text-anchor="middle">2500</text>
<text transform="translate(1044.45,1342.2) scale(1,1.042)" font-size="51.8" text-anchor="middle">2000</text>
<text transform="translate(1304.97,1342.2) scale(1,1.042)" font-size="51.8" text-anchor="middle">1500</text>
<text transform="translate(1565.49,1342.2) scale(1,1.042)" font-size="51.8" text-anchor="middle">1000</text>
<text transform="translate(731.5,1447.6) scale(1,1.042)" font-size="63">Wave number (cm<tspan font-size="43" dy="-25.7">-1</tspan><tspan dx="6" dy="25.7">)</tspan></text>
<text transform="translate(62.5,634.6) rotate(-90) scale(1,1.042)" font-size="63" text-anchor="middle">Absorbance</text>
<rect x="326.05" y="76.05" width="320.3" height="367.7" fill="#fff" stroke="#000" stroke-width="1.85"/>
<line x1="331.8" y1="109.9" x2="441.9" y2="109.9" stroke="#898989" stroke-width="2"/>
<text transform="translate(455.2,126.6) scale(1,1.012)" font-size="49">PUR_01</text>
<line x1="331.8" y1="169.9" x2="441.9" y2="169.9" stroke="#ff5b5b" stroke-width="2"/>
<text transform="translate(455.2,186.6) scale(1,1.012)" font-size="49">PUR_02</text>
<line x1="331.8" y1="229.9" x2="441.9" y2="229.9" stroke="#2382e4" stroke-width="2"/>
<text transform="translate(455.2,246.6) scale(1,1.012)" font-size="49">PUR_03</text>
<line x1="331.8" y1="289.9" x2="441.9" y2="289.9" stroke="#26bb7c" stroke-width="2"/>
<text transform="translate(455.2,306.6) scale(1,1.012)" font-size="49">PUR_04</text>
<line x1="331.8" y1="349.9" x2="441.9" y2="349.9" stroke="#cc8de6" stroke-width="2"/>
<text transform="translate(455.2,366.6) scale(1,1.012)" font-size="49">PUR_05</text>
<line x1="331.8" y1="409.9" x2="441.9" y2="409.9" stroke="#e2a926" stroke-width="2"/>
<text transform="translate(455.2,426.6) scale(1,1.012)" font-size="49">PUR_06</text>
<text transform="translate(404.3,686.8) rotate(-90) scale(1,1.09)" font-size="40.3">3295</text>
<text transform="translate(555.9,684.3) rotate(-90) scale(1,1.09)" font-size="40.3">2949</text>
<text transform="translate(614.9,673.6) rotate(-90) scale(1,1.09)" font-size="40.3">2874</text>
<text transform="translate(1207.8,676.0) rotate(-90) scale(1,1.09)" font-size="40.3">1728</text>
<text transform="translate(1282.8,606.8) rotate(-90) scale(1,1.09)" font-size="40.3">1643</text>
<text transform="translate(1319.0,595.2) rotate(-90) scale(1,1.09)" font-size="40.3">1598</text>
<text transform="translate(1338.8,665.3) rotate(-90) scale(1,1.09)" font-size="40.3">1535</text>
<text transform="translate(1380.0,626.6) rotate(-90) scale(1,1.09)" font-size="40.3">1447</text>
<text transform="translate(1468.5,573.4) rotate(-90) scale(1,1.09)" font-size="40.3">1219</text>
<text transform="translate(1520.8,250.7) rotate(-90) scale(1,1.09)" font-size="40.3">1173</text>
<text transform="translate(1553.2,174.5) rotate(-90) scale(1,1.09)" font-size="40.3">1124</text>
<text transform="translate(1594.6,139.7) rotate(-90) scale(1,1.09)" font-size="40.3">1078</text>
<text transform="translate(1626.2,553.4) rotate(-90) scale(1,1.09)" font-size="40.3">954</text>
<text transform="translate(1661.9,576.5) rotate(-90) scale(1,1.09)" font-size="40.3">866</text>
<text transform="translate(1695.9,558.9) rotate(-90) scale(1,1.09)" font-size="40.3">814</text>
<text transform="translate(1744.8,540.8) rotate(-90) scale(1,1.09)" font-size="40.3">755</text>
</svg></body></html>
